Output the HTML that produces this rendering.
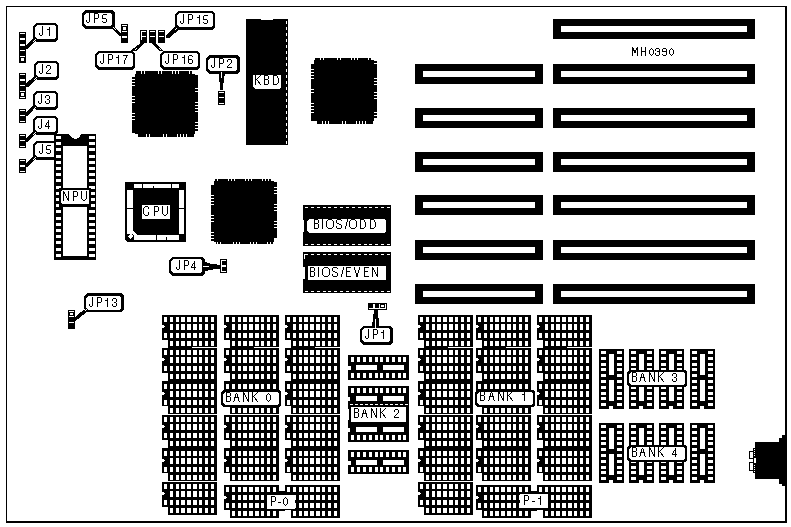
<!DOCTYPE html>
<html><head><meta charset="utf-8"><style>
html,body{margin:0;padding:0;background:#fff;}
svg{display:block;}
text{font-family:"Liberation Sans", sans-serif;}
</style></head><body>
<svg width="791" height="527" viewBox="0 0 791 527" shape-rendering="crispEdges">
<rect width="791" height="527" fill="#fff"/>
<rect x="6" y="6" width="781" height="517" fill="#000"/>
<rect x="7" y="7" width="778" height="514" fill="#fff"/>
<rect x="553" y="19" width="202" height="20" fill="#000"/>
<rect x="561" y="26" width="186" height="6" fill="#fff"/>
<rect x="553" y="64" width="202" height="20" fill="#000"/>
<rect x="561" y="71" width="186" height="6" fill="#fff"/>
<rect x="415" y="64" width="128" height="20" fill="#000"/>
<rect x="423" y="71" width="112" height="6" fill="#fff"/>
<rect x="553" y="108" width="202" height="20" fill="#000"/>
<rect x="561" y="115" width="186" height="6" fill="#fff"/>
<rect x="415" y="108" width="128" height="20" fill="#000"/>
<rect x="423" y="115" width="112" height="6" fill="#fff"/>
<rect x="553" y="152" width="202" height="20" fill="#000"/>
<rect x="561" y="159" width="186" height="6" fill="#fff"/>
<rect x="415" y="152" width="128" height="20" fill="#000"/>
<rect x="423" y="159" width="112" height="6" fill="#fff"/>
<rect x="553" y="195" width="202" height="20" fill="#000"/>
<rect x="561" y="202" width="186" height="6" fill="#fff"/>
<rect x="415" y="195" width="128" height="20" fill="#000"/>
<rect x="423" y="202" width="112" height="6" fill="#fff"/>
<rect x="553" y="240" width="202" height="20" fill="#000"/>
<rect x="561" y="247" width="186" height="6" fill="#fff"/>
<rect x="415" y="240" width="128" height="20" fill="#000"/>
<rect x="423" y="247" width="112" height="6" fill="#fff"/>
<rect x="553" y="284" width="202" height="20" fill="#000"/>
<rect x="561" y="291" width="186" height="6" fill="#fff"/>
<rect x="415" y="284" width="128" height="20" fill="#000"/>
<rect x="423" y="291" width="112" height="6" fill="#fff"/>
<polygon points="136,71 192,71 192,74 195,74 195,75 198,75 198,131 195,131 195,134 194,134 194,137 138,137 138,134 135,134 135,133 132,133 132,77 135,77 135,74 136,74" fill="#000"/>
<rect x="141" y="71" width="1" height="3" fill="#fff"/>
<rect x="144" y="71" width="1" height="3" fill="#fff"/>
<rect x="158" y="71" width="1" height="3" fill="#fff"/>
<rect x="161" y="71" width="1" height="3" fill="#fff"/>
<rect x="172" y="71" width="1" height="3" fill="#fff"/>
<rect x="175" y="71" width="1" height="3" fill="#fff"/>
<rect x="178" y="71" width="1" height="3" fill="#fff"/>
<rect x="189" y="71" width="1" height="3" fill="#fff"/>
<rect x="146" y="134" width="1" height="3" fill="#fff"/>
<rect x="149" y="134" width="1" height="3" fill="#fff"/>
<rect x="163" y="134" width="1" height="3" fill="#fff"/>
<rect x="166" y="134" width="1" height="3" fill="#fff"/>
<rect x="177" y="134" width="1" height="3" fill="#fff"/>
<rect x="180" y="134" width="1" height="3" fill="#fff"/>
<rect x="183" y="134" width="1" height="3" fill="#fff"/>
<rect x="186" y="134" width="1" height="3" fill="#fff"/>
<rect x="132" y="79" width="3" height="1" fill="#fff"/>
<rect x="132" y="82" width="3" height="1" fill="#fff"/>
<rect x="132" y="85" width="3" height="1" fill="#fff"/>
<rect x="132" y="96" width="3" height="1" fill="#fff"/>
<rect x="132" y="99" width="3" height="1" fill="#fff"/>
<rect x="132" y="102" width="3" height="1" fill="#fff"/>
<rect x="132" y="113" width="3" height="1" fill="#fff"/>
<rect x="132" y="116" width="3" height="1" fill="#fff"/>
<rect x="132" y="119" width="3" height="1" fill="#fff"/>
<rect x="195" y="88" width="3" height="1" fill="#fff"/>
<rect x="195" y="91" width="3" height="1" fill="#fff"/>
<rect x="195" y="102" width="3" height="1" fill="#fff"/>
<rect x="195" y="105" width="3" height="1" fill="#fff"/>
<rect x="195" y="108" width="3" height="1" fill="#fff"/>
<rect x="195" y="111" width="3" height="1" fill="#fff"/>
<rect x="195" y="122" width="3" height="1" fill="#fff"/>
<rect x="195" y="125" width="3" height="1" fill="#fff"/>
<rect x="195" y="128" width="3" height="1" fill="#fff"/>
<polygon points="315,58 371,58 371,60 374,60 374,61 377,61 377,118 374,118 374,121 373,121 373,124 317,124 317,121 311,121 311,64 314,64 314,60 315,60" fill="#000"/>
<rect x="320" y="58" width="1" height="2" fill="#fff"/>
<rect x="323" y="58" width="1" height="2" fill="#fff"/>
<rect x="337" y="58" width="1" height="2" fill="#fff"/>
<rect x="340" y="58" width="1" height="2" fill="#fff"/>
<rect x="351" y="58" width="1" height="2" fill="#fff"/>
<rect x="354" y="58" width="1" height="2" fill="#fff"/>
<rect x="357" y="58" width="1" height="2" fill="#fff"/>
<rect x="368" y="58" width="1" height="2" fill="#fff"/>
<rect x="322" y="121" width="1" height="3" fill="#fff"/>
<rect x="325" y="121" width="1" height="3" fill="#fff"/>
<rect x="328" y="121" width="1" height="3" fill="#fff"/>
<rect x="342" y="121" width="1" height="3" fill="#fff"/>
<rect x="345" y="121" width="1" height="3" fill="#fff"/>
<rect x="356" y="121" width="1" height="3" fill="#fff"/>
<rect x="359" y="121" width="1" height="3" fill="#fff"/>
<rect x="362" y="121" width="1" height="3" fill="#fff"/>
<rect x="365" y="121" width="1" height="3" fill="#fff"/>
<rect x="311" y="69" width="3" height="1" fill="#fff"/>
<rect x="311" y="72" width="3" height="1" fill="#fff"/>
<rect x="311" y="75" width="3" height="1" fill="#fff"/>
<rect x="311" y="78" width="3" height="1" fill="#fff"/>
<rect x="311" y="89" width="3" height="1" fill="#fff"/>
<rect x="311" y="92" width="3" height="1" fill="#fff"/>
<rect x="311" y="103" width="3" height="1" fill="#fff"/>
<rect x="311" y="106" width="3" height="1" fill="#fff"/>
<rect x="311" y="109" width="3" height="1" fill="#fff"/>
<rect x="311" y="112" width="3" height="1" fill="#fff"/>
<rect x="374" y="63" width="3" height="1" fill="#fff"/>
<rect x="374" y="78" width="3" height="1" fill="#fff"/>
<rect x="374" y="81" width="3" height="1" fill="#fff"/>
<rect x="374" y="84" width="3" height="1" fill="#fff"/>
<rect x="374" y="92" width="3" height="1" fill="#fff"/>
<rect x="374" y="95" width="3" height="1" fill="#fff"/>
<rect x="374" y="98" width="3" height="1" fill="#fff"/>
<rect x="374" y="112" width="3" height="1" fill="#fff"/>
<rect x="374" y="115" width="3" height="1" fill="#fff"/>
<polygon points="215,179 271,179 271,181 274,181 274,182 277,182 277,210 274,210 274,211 277,211 277,238 274,238 274,242 273,242 273,244 216,244 216,242 214,242 214,241 211,241 211,185 214,185 214,181 215,181" fill="#000"/>
<rect x="217" y="179" width="1" height="2" fill="#fff"/>
<rect x="228" y="179" width="1" height="2" fill="#fff"/>
<rect x="231" y="179" width="1" height="2" fill="#fff"/>
<rect x="234" y="179" width="1" height="2" fill="#fff"/>
<rect x="245" y="179" width="1" height="2" fill="#fff"/>
<rect x="248" y="179" width="1" height="2" fill="#fff"/>
<rect x="251" y="179" width="1" height="2" fill="#fff"/>
<rect x="262" y="179" width="1" height="2" fill="#fff"/>
<rect x="265" y="179" width="1" height="2" fill="#fff"/>
<rect x="268" y="179" width="1" height="2" fill="#fff"/>
<rect x="217" y="242" width="1" height="2" fill="#fff"/>
<rect x="220" y="242" width="1" height="2" fill="#fff"/>
<rect x="233" y="242" width="1" height="2" fill="#fff"/>
<rect x="236" y="242" width="1" height="2" fill="#fff"/>
<rect x="239" y="242" width="1" height="2" fill="#fff"/>
<rect x="250" y="242" width="1" height="2" fill="#fff"/>
<rect x="253" y="242" width="1" height="2" fill="#fff"/>
<rect x="256" y="242" width="1" height="2" fill="#fff"/>
<rect x="267" y="242" width="1" height="2" fill="#fff"/>
<rect x="270" y="242" width="1" height="2" fill="#fff"/>
<rect x="211" y="195" width="3" height="1" fill="#fff"/>
<rect x="211" y="198" width="3" height="1" fill="#fff"/>
<rect x="211" y="201" width="3" height="1" fill="#fff"/>
<rect x="211" y="204" width="3" height="1" fill="#fff"/>
<rect x="211" y="215" width="3" height="1" fill="#fff"/>
<rect x="211" y="218" width="3" height="1" fill="#fff"/>
<rect x="211" y="221" width="3" height="1" fill="#fff"/>
<rect x="211" y="232" width="3" height="1" fill="#fff"/>
<rect x="211" y="235" width="3" height="1" fill="#fff"/>
<rect x="211" y="238" width="3" height="1" fill="#fff"/>
<rect x="274" y="187" width="3" height="1" fill="#fff"/>
<rect x="274" y="190" width="3" height="1" fill="#fff"/>
<rect x="274" y="193" width="3" height="1" fill="#fff"/>
<rect x="274" y="204" width="3" height="1" fill="#fff"/>
<rect x="274" y="207" width="3" height="1" fill="#fff"/>
<rect x="274" y="221" width="3" height="1" fill="#fff"/>
<rect x="274" y="224" width="3" height="1" fill="#fff"/>
<rect x="274" y="227" width="3" height="1" fill="#fff"/>
<rect x="246" y="19" width="42" height="126" fill="#000"/>
<rect x="261" y="19" width="12" height="1" fill="#fff"/>
<rect x="286" y="21" width="1" height="3" fill="#fff"/>
<rect x="286" y="27" width="1" height="3" fill="#fff"/>
<rect x="286" y="33" width="1" height="3" fill="#fff"/>
<rect x="286" y="39" width="1" height="3" fill="#fff"/>
<rect x="286" y="45" width="1" height="3" fill="#fff"/>
<rect x="286" y="51" width="1" height="3" fill="#fff"/>
<rect x="286" y="57" width="1" height="3" fill="#fff"/>
<rect x="286" y="63" width="1" height="3" fill="#fff"/>
<rect x="286" y="69" width="1" height="3" fill="#fff"/>
<rect x="286" y="75" width="1" height="3" fill="#fff"/>
<rect x="286" y="81" width="1" height="3" fill="#fff"/>
<rect x="286" y="87" width="1" height="3" fill="#fff"/>
<rect x="286" y="93" width="1" height="3" fill="#fff"/>
<rect x="286" y="99" width="1" height="3" fill="#fff"/>
<rect x="286" y="105" width="1" height="3" fill="#fff"/>
<rect x="286" y="111" width="1" height="3" fill="#fff"/>
<rect x="286" y="117" width="1" height="3" fill="#fff"/>
<rect x="286" y="123" width="1" height="3" fill="#fff"/>
<rect x="286" y="129" width="1" height="3" fill="#fff"/>
<rect x="286" y="135" width="1" height="3" fill="#fff"/>
<rect x="286" y="141" width="1" height="3" fill="#fff"/>
<polygon points="253,75 281,75 281,87 279,89 255,89 253,87" fill="#fff"/>
<rect x="125" y="182" width="61" height="60" fill="#000"/>
<rect x="134" y="184" width="45" height="4" fill="#fff"/>
<rect x="127" y="190" width="6" height="44" fill="#fff"/>
<rect x="179" y="190" width="5" height="44" fill="#fff"/>
<rect x="134" y="235" width="45" height="5" fill="#fff"/>
<rect x="142" y="184" width="1" height="4" fill="#000"/>
<rect x="153" y="186" width="1" height="2" fill="#000"/>
<rect x="171" y="184" width="1" height="4" fill="#000"/>
<rect x="156" y="235" width="1" height="5" fill="#000"/>
<rect x="166" y="237" width="1" height="3" fill="#000"/>
<rect x="127" y="208" width="6" height="1" fill="#000"/>
<rect x="179" y="208" width="5" height="1" fill="#000"/>
<polygon points="133,231 137,235 133,235" fill="#fff"/>
<polygon points="130.5,233.5 133,236 130.5,239 128,236" fill="#fff"/>
<polygon points="124,238 128,242.5 124,242.5" fill="#fff"/>
<rect x="142" y="205" width="28" height="14" fill="#fff"/>
<rect x="303" y="205" width="88" height="41" fill="#000"/>
<rect x="305" y="207" width="3" height="1" fill="#fff"/>
<rect x="305" y="244" width="3" height="1" fill="#fff"/>
<rect x="311" y="207" width="3" height="1" fill="#fff"/>
<rect x="311" y="244" width="3" height="1" fill="#fff"/>
<rect x="317" y="207" width="3" height="1" fill="#fff"/>
<rect x="317" y="244" width="3" height="1" fill="#fff"/>
<rect x="323" y="207" width="3" height="1" fill="#fff"/>
<rect x="323" y="244" width="3" height="1" fill="#fff"/>
<rect x="328" y="207" width="3" height="1" fill="#fff"/>
<rect x="328" y="244" width="3" height="1" fill="#fff"/>
<rect x="334" y="207" width="3" height="1" fill="#fff"/>
<rect x="334" y="244" width="3" height="1" fill="#fff"/>
<rect x="340" y="207" width="3" height="1" fill="#fff"/>
<rect x="340" y="244" width="3" height="1" fill="#fff"/>
<rect x="346" y="207" width="3" height="1" fill="#fff"/>
<rect x="346" y="244" width="3" height="1" fill="#fff"/>
<rect x="352" y="207" width="3" height="1" fill="#fff"/>
<rect x="352" y="244" width="3" height="1" fill="#fff"/>
<rect x="358" y="207" width="3" height="1" fill="#fff"/>
<rect x="358" y="244" width="3" height="1" fill="#fff"/>
<rect x="364" y="207" width="3" height="1" fill="#fff"/>
<rect x="364" y="244" width="3" height="1" fill="#fff"/>
<rect x="369" y="207" width="3" height="1" fill="#fff"/>
<rect x="369" y="244" width="3" height="1" fill="#fff"/>
<rect x="375" y="207" width="3" height="1" fill="#fff"/>
<rect x="375" y="244" width="3" height="1" fill="#fff"/>
<rect x="381" y="207" width="3" height="1" fill="#fff"/>
<rect x="381" y="244" width="3" height="1" fill="#fff"/>
<rect x="387" y="207" width="3" height="1" fill="#fff"/>
<rect x="387" y="244" width="3" height="1" fill="#fff"/>
<rect x="303" y="220" width="1" height="12" fill="#fff"/>
<polygon points="309,219 384,219 386,221 386,231 384,233 309,233 307,231 307,221" fill="#fff"/>
<rect x="303" y="252" width="88" height="41" fill="#000"/>
<rect x="305" y="254" width="3" height="1" fill="#fff"/>
<rect x="305" y="291" width="3" height="1" fill="#fff"/>
<rect x="311" y="254" width="3" height="1" fill="#fff"/>
<rect x="311" y="291" width="3" height="1" fill="#fff"/>
<rect x="317" y="254" width="3" height="1" fill="#fff"/>
<rect x="317" y="291" width="3" height="1" fill="#fff"/>
<rect x="323" y="254" width="3" height="1" fill="#fff"/>
<rect x="323" y="291" width="3" height="1" fill="#fff"/>
<rect x="328" y="254" width="3" height="1" fill="#fff"/>
<rect x="328" y="291" width="3" height="1" fill="#fff"/>
<rect x="334" y="254" width="3" height="1" fill="#fff"/>
<rect x="334" y="291" width="3" height="1" fill="#fff"/>
<rect x="340" y="254" width="3" height="1" fill="#fff"/>
<rect x="340" y="291" width="3" height="1" fill="#fff"/>
<rect x="346" y="254" width="3" height="1" fill="#fff"/>
<rect x="346" y="291" width="3" height="1" fill="#fff"/>
<rect x="352" y="254" width="3" height="1" fill="#fff"/>
<rect x="352" y="291" width="3" height="1" fill="#fff"/>
<rect x="358" y="254" width="3" height="1" fill="#fff"/>
<rect x="358" y="291" width="3" height="1" fill="#fff"/>
<rect x="364" y="254" width="3" height="1" fill="#fff"/>
<rect x="364" y="291" width="3" height="1" fill="#fff"/>
<rect x="369" y="254" width="3" height="1" fill="#fff"/>
<rect x="369" y="291" width="3" height="1" fill="#fff"/>
<rect x="375" y="254" width="3" height="1" fill="#fff"/>
<rect x="375" y="291" width="3" height="1" fill="#fff"/>
<rect x="381" y="254" width="3" height="1" fill="#fff"/>
<rect x="381" y="291" width="3" height="1" fill="#fff"/>
<rect x="387" y="254" width="3" height="1" fill="#fff"/>
<rect x="387" y="291" width="3" height="1" fill="#fff"/>
<rect x="303" y="267" width="2" height="12" fill="#fff"/>
<rect x="304" y="254" width="1" height="5" fill="#fff"/>
<rect x="308" y="266" width="78" height="14" fill="#fff"/>
<rect x="162" y="315" width="55" height="25" fill="#000"/>
<rect x="168" y="340" width="49" height="8" fill="#000"/>
<rect x="164" y="317" width="3" height="5" fill="#fff"/>
<rect x="170" y="317" width="3" height="5" fill="#fff"/>
<rect x="176" y="317" width="3" height="5" fill="#fff"/>
<rect x="181" y="317" width="4" height="5" fill="#fff"/>
<rect x="187" y="317" width="4" height="5" fill="#fff"/>
<rect x="193" y="317" width="4" height="5" fill="#fff"/>
<rect x="199" y="317" width="3" height="5" fill="#fff"/>
<rect x="205" y="317" width="3" height="5" fill="#fff"/>
<rect x="211" y="317" width="3" height="5" fill="#fff"/>
<rect x="170" y="324" width="3" height="6" fill="#fff"/>
<rect x="176" y="324" width="3" height="6" fill="#fff"/>
<rect x="181" y="324" width="4" height="6" fill="#fff"/>
<rect x="187" y="324" width="4" height="6" fill="#fff"/>
<rect x="193" y="324" width="4" height="6" fill="#fff"/>
<rect x="199" y="324" width="3" height="6" fill="#fff"/>
<rect x="205" y="324" width="3" height="6" fill="#fff"/>
<rect x="211" y="324" width="3" height="6" fill="#fff"/>
<rect x="164" y="333" width="3" height="5" fill="#fff"/>
<rect x="170" y="333" width="3" height="5" fill="#fff"/>
<rect x="176" y="333" width="3" height="5" fill="#fff"/>
<rect x="181" y="333" width="4" height="5" fill="#fff"/>
<rect x="187" y="333" width="4" height="5" fill="#fff"/>
<rect x="193" y="333" width="4" height="5" fill="#fff"/>
<rect x="199" y="333" width="3" height="5" fill="#fff"/>
<rect x="205" y="333" width="3" height="5" fill="#fff"/>
<rect x="211" y="333" width="3" height="5" fill="#fff"/>
<rect x="170" y="341" width="3" height="5" fill="#fff"/>
<rect x="176" y="341" width="3" height="5" fill="#fff"/>
<rect x="181" y="341" width="4" height="5" fill="#fff"/>
<rect x="187" y="341" width="4" height="5" fill="#fff"/>
<rect x="193" y="341" width="4" height="5" fill="#fff"/>
<rect x="199" y="341" width="3" height="5" fill="#fff"/>
<rect x="205" y="341" width="3" height="5" fill="#fff"/>
<rect x="211" y="341" width="3" height="5" fill="#fff"/>
<polygon points="162,325 164,325 165,326.5 164,328 162,328" fill="#fff"/>
<rect x="162" y="348" width="55" height="25" fill="#000"/>
<rect x="168" y="373" width="49" height="8" fill="#000"/>
<rect x="164" y="350" width="3" height="5" fill="#fff"/>
<rect x="170" y="350" width="3" height="5" fill="#fff"/>
<rect x="176" y="350" width="3" height="5" fill="#fff"/>
<rect x="181" y="350" width="4" height="5" fill="#fff"/>
<rect x="187" y="350" width="4" height="5" fill="#fff"/>
<rect x="193" y="350" width="4" height="5" fill="#fff"/>
<rect x="199" y="350" width="3" height="5" fill="#fff"/>
<rect x="205" y="350" width="3" height="5" fill="#fff"/>
<rect x="211" y="350" width="3" height="5" fill="#fff"/>
<rect x="170" y="357" width="3" height="6" fill="#fff"/>
<rect x="176" y="357" width="3" height="6" fill="#fff"/>
<rect x="181" y="357" width="4" height="6" fill="#fff"/>
<rect x="187" y="357" width="4" height="6" fill="#fff"/>
<rect x="193" y="357" width="4" height="6" fill="#fff"/>
<rect x="199" y="357" width="3" height="6" fill="#fff"/>
<rect x="205" y="357" width="3" height="6" fill="#fff"/>
<rect x="211" y="357" width="3" height="6" fill="#fff"/>
<rect x="164" y="366" width="3" height="5" fill="#fff"/>
<rect x="170" y="366" width="3" height="5" fill="#fff"/>
<rect x="176" y="366" width="3" height="5" fill="#fff"/>
<rect x="181" y="366" width="4" height="5" fill="#fff"/>
<rect x="187" y="366" width="4" height="5" fill="#fff"/>
<rect x="193" y="366" width="4" height="5" fill="#fff"/>
<rect x="199" y="366" width="3" height="5" fill="#fff"/>
<rect x="205" y="366" width="3" height="5" fill="#fff"/>
<rect x="211" y="366" width="3" height="5" fill="#fff"/>
<rect x="170" y="374" width="3" height="5" fill="#fff"/>
<rect x="176" y="374" width="3" height="5" fill="#fff"/>
<rect x="181" y="374" width="4" height="5" fill="#fff"/>
<rect x="187" y="374" width="4" height="5" fill="#fff"/>
<rect x="193" y="374" width="4" height="5" fill="#fff"/>
<rect x="199" y="374" width="3" height="5" fill="#fff"/>
<rect x="205" y="374" width="3" height="5" fill="#fff"/>
<rect x="211" y="374" width="3" height="5" fill="#fff"/>
<polygon points="162,358 164,358 165,359.5 164,361 162,361" fill="#fff"/>
<rect x="162" y="381" width="55" height="25" fill="#000"/>
<rect x="168" y="406" width="49" height="9" fill="#000"/>
<rect x="164" y="384" width="3" height="5" fill="#fff"/>
<rect x="170" y="384" width="3" height="5" fill="#fff"/>
<rect x="176" y="384" width="3" height="5" fill="#fff"/>
<rect x="181" y="384" width="4" height="5" fill="#fff"/>
<rect x="187" y="384" width="4" height="5" fill="#fff"/>
<rect x="193" y="384" width="4" height="5" fill="#fff"/>
<rect x="199" y="384" width="3" height="5" fill="#fff"/>
<rect x="205" y="384" width="3" height="5" fill="#fff"/>
<rect x="211" y="384" width="3" height="5" fill="#fff"/>
<rect x="170" y="391" width="3" height="6" fill="#fff"/>
<rect x="176" y="391" width="3" height="6" fill="#fff"/>
<rect x="181" y="391" width="4" height="6" fill="#fff"/>
<rect x="187" y="391" width="4" height="6" fill="#fff"/>
<rect x="193" y="391" width="4" height="6" fill="#fff"/>
<rect x="199" y="391" width="3" height="6" fill="#fff"/>
<rect x="205" y="391" width="3" height="6" fill="#fff"/>
<rect x="211" y="391" width="3" height="6" fill="#fff"/>
<rect x="164" y="400" width="3" height="5" fill="#fff"/>
<rect x="170" y="400" width="3" height="5" fill="#fff"/>
<rect x="176" y="400" width="3" height="5" fill="#fff"/>
<rect x="181" y="400" width="4" height="5" fill="#fff"/>
<rect x="187" y="400" width="4" height="5" fill="#fff"/>
<rect x="193" y="400" width="4" height="5" fill="#fff"/>
<rect x="199" y="400" width="3" height="5" fill="#fff"/>
<rect x="205" y="400" width="3" height="5" fill="#fff"/>
<rect x="211" y="400" width="3" height="5" fill="#fff"/>
<rect x="170" y="408" width="3" height="5" fill="#fff"/>
<rect x="176" y="408" width="3" height="5" fill="#fff"/>
<rect x="181" y="408" width="4" height="5" fill="#fff"/>
<rect x="187" y="408" width="4" height="5" fill="#fff"/>
<rect x="193" y="408" width="4" height="5" fill="#fff"/>
<rect x="199" y="408" width="3" height="5" fill="#fff"/>
<rect x="205" y="408" width="3" height="5" fill="#fff"/>
<rect x="211" y="408" width="3" height="5" fill="#fff"/>
<polygon points="162,392 164,392 165,393.5 164,395 162,395" fill="#fff"/>
<rect x="162" y="415" width="55" height="25" fill="#000"/>
<rect x="168" y="440" width="49" height="8" fill="#000"/>
<rect x="164" y="417" width="3" height="5" fill="#fff"/>
<rect x="170" y="417" width="3" height="5" fill="#fff"/>
<rect x="176" y="417" width="3" height="5" fill="#fff"/>
<rect x="181" y="417" width="4" height="5" fill="#fff"/>
<rect x="187" y="417" width="4" height="5" fill="#fff"/>
<rect x="193" y="417" width="4" height="5" fill="#fff"/>
<rect x="199" y="417" width="3" height="5" fill="#fff"/>
<rect x="205" y="417" width="3" height="5" fill="#fff"/>
<rect x="211" y="417" width="3" height="5" fill="#fff"/>
<rect x="170" y="424" width="3" height="6" fill="#fff"/>
<rect x="176" y="424" width="3" height="6" fill="#fff"/>
<rect x="181" y="424" width="4" height="6" fill="#fff"/>
<rect x="187" y="424" width="4" height="6" fill="#fff"/>
<rect x="193" y="424" width="4" height="6" fill="#fff"/>
<rect x="199" y="424" width="3" height="6" fill="#fff"/>
<rect x="205" y="424" width="3" height="6" fill="#fff"/>
<rect x="211" y="424" width="3" height="6" fill="#fff"/>
<rect x="164" y="433" width="3" height="5" fill="#fff"/>
<rect x="170" y="433" width="3" height="5" fill="#fff"/>
<rect x="176" y="433" width="3" height="5" fill="#fff"/>
<rect x="181" y="433" width="4" height="5" fill="#fff"/>
<rect x="187" y="433" width="4" height="5" fill="#fff"/>
<rect x="193" y="433" width="4" height="5" fill="#fff"/>
<rect x="199" y="433" width="3" height="5" fill="#fff"/>
<rect x="205" y="433" width="3" height="5" fill="#fff"/>
<rect x="211" y="433" width="3" height="5" fill="#fff"/>
<rect x="170" y="441" width="3" height="5" fill="#fff"/>
<rect x="176" y="441" width="3" height="5" fill="#fff"/>
<rect x="181" y="441" width="4" height="5" fill="#fff"/>
<rect x="187" y="441" width="4" height="5" fill="#fff"/>
<rect x="193" y="441" width="4" height="5" fill="#fff"/>
<rect x="199" y="441" width="3" height="5" fill="#fff"/>
<rect x="205" y="441" width="3" height="5" fill="#fff"/>
<rect x="211" y="441" width="3" height="5" fill="#fff"/>
<polygon points="162,425 164,425 165,426.5 164,428 162,428" fill="#fff"/>
<rect x="162" y="448" width="55" height="25" fill="#000"/>
<rect x="168" y="473" width="49" height="9" fill="#000"/>
<rect x="164" y="451" width="3" height="5" fill="#fff"/>
<rect x="170" y="451" width="3" height="5" fill="#fff"/>
<rect x="176" y="451" width="3" height="5" fill="#fff"/>
<rect x="181" y="451" width="4" height="5" fill="#fff"/>
<rect x="187" y="451" width="4" height="5" fill="#fff"/>
<rect x="193" y="451" width="4" height="5" fill="#fff"/>
<rect x="199" y="451" width="3" height="5" fill="#fff"/>
<rect x="205" y="451" width="3" height="5" fill="#fff"/>
<rect x="211" y="451" width="3" height="5" fill="#fff"/>
<rect x="170" y="458" width="3" height="6" fill="#fff"/>
<rect x="176" y="458" width="3" height="6" fill="#fff"/>
<rect x="181" y="458" width="4" height="6" fill="#fff"/>
<rect x="187" y="458" width="4" height="6" fill="#fff"/>
<rect x="193" y="458" width="4" height="6" fill="#fff"/>
<rect x="199" y="458" width="3" height="6" fill="#fff"/>
<rect x="205" y="458" width="3" height="6" fill="#fff"/>
<rect x="211" y="458" width="3" height="6" fill="#fff"/>
<rect x="164" y="467" width="3" height="5" fill="#fff"/>
<rect x="170" y="467" width="3" height="5" fill="#fff"/>
<rect x="176" y="467" width="3" height="5" fill="#fff"/>
<rect x="181" y="467" width="4" height="5" fill="#fff"/>
<rect x="187" y="467" width="4" height="5" fill="#fff"/>
<rect x="193" y="467" width="4" height="5" fill="#fff"/>
<rect x="199" y="467" width="3" height="5" fill="#fff"/>
<rect x="205" y="467" width="3" height="5" fill="#fff"/>
<rect x="211" y="467" width="3" height="5" fill="#fff"/>
<rect x="170" y="475" width="3" height="5" fill="#fff"/>
<rect x="176" y="475" width="3" height="5" fill="#fff"/>
<rect x="181" y="475" width="4" height="5" fill="#fff"/>
<rect x="187" y="475" width="4" height="5" fill="#fff"/>
<rect x="193" y="475" width="4" height="5" fill="#fff"/>
<rect x="199" y="475" width="3" height="5" fill="#fff"/>
<rect x="205" y="475" width="3" height="5" fill="#fff"/>
<rect x="211" y="475" width="3" height="5" fill="#fff"/>
<polygon points="162,459 164,459 165,460.5 164,462 162,462" fill="#fff"/>
<rect x="162" y="482" width="55" height="25" fill="#000"/>
<rect x="168" y="507" width="49" height="8" fill="#000"/>
<rect x="164" y="484" width="3" height="5" fill="#fff"/>
<rect x="170" y="484" width="3" height="5" fill="#fff"/>
<rect x="176" y="484" width="3" height="5" fill="#fff"/>
<rect x="181" y="484" width="4" height="5" fill="#fff"/>
<rect x="187" y="484" width="4" height="5" fill="#fff"/>
<rect x="193" y="484" width="4" height="5" fill="#fff"/>
<rect x="199" y="484" width="3" height="5" fill="#fff"/>
<rect x="205" y="484" width="3" height="5" fill="#fff"/>
<rect x="211" y="484" width="3" height="5" fill="#fff"/>
<rect x="170" y="491" width="3" height="6" fill="#fff"/>
<rect x="176" y="491" width="3" height="6" fill="#fff"/>
<rect x="181" y="491" width="4" height="6" fill="#fff"/>
<rect x="187" y="491" width="4" height="6" fill="#fff"/>
<rect x="193" y="491" width="4" height="6" fill="#fff"/>
<rect x="199" y="491" width="3" height="6" fill="#fff"/>
<rect x="205" y="491" width="3" height="6" fill="#fff"/>
<rect x="211" y="491" width="3" height="6" fill="#fff"/>
<rect x="164" y="500" width="3" height="5" fill="#fff"/>
<rect x="170" y="500" width="3" height="5" fill="#fff"/>
<rect x="176" y="500" width="3" height="5" fill="#fff"/>
<rect x="181" y="500" width="4" height="5" fill="#fff"/>
<rect x="187" y="500" width="4" height="5" fill="#fff"/>
<rect x="193" y="500" width="4" height="5" fill="#fff"/>
<rect x="199" y="500" width="3" height="5" fill="#fff"/>
<rect x="205" y="500" width="3" height="5" fill="#fff"/>
<rect x="211" y="500" width="3" height="5" fill="#fff"/>
<rect x="170" y="508" width="3" height="5" fill="#fff"/>
<rect x="176" y="508" width="3" height="5" fill="#fff"/>
<rect x="181" y="508" width="4" height="5" fill="#fff"/>
<rect x="187" y="508" width="4" height="5" fill="#fff"/>
<rect x="193" y="508" width="4" height="5" fill="#fff"/>
<rect x="199" y="508" width="3" height="5" fill="#fff"/>
<rect x="205" y="508" width="3" height="5" fill="#fff"/>
<rect x="211" y="508" width="3" height="5" fill="#fff"/>
<polygon points="162,492 164,492 165,493.5 164,495 162,495" fill="#fff"/>
<rect x="192" y="347" width="25" height="1" fill="#fff"/>
<rect x="162" y="414" width="55" height="1" fill="#fff"/>
<rect x="168" y="481" width="49" height="1" fill="#fff"/>
<rect x="418" y="315" width="55" height="25" fill="#000"/>
<rect x="424" y="340" width="49" height="8" fill="#000"/>
<rect x="420" y="317" width="3" height="5" fill="#fff"/>
<rect x="426" y="317" width="3" height="5" fill="#fff"/>
<rect x="432" y="317" width="3" height="5" fill="#fff"/>
<rect x="437" y="317" width="4" height="5" fill="#fff"/>
<rect x="443" y="317" width="4" height="5" fill="#fff"/>
<rect x="449" y="317" width="4" height="5" fill="#fff"/>
<rect x="455" y="317" width="3" height="5" fill="#fff"/>
<rect x="461" y="317" width="3" height="5" fill="#fff"/>
<rect x="467" y="317" width="3" height="5" fill="#fff"/>
<rect x="426" y="324" width="3" height="6" fill="#fff"/>
<rect x="432" y="324" width="3" height="6" fill="#fff"/>
<rect x="437" y="324" width="4" height="6" fill="#fff"/>
<rect x="443" y="324" width="4" height="6" fill="#fff"/>
<rect x="449" y="324" width="4" height="6" fill="#fff"/>
<rect x="455" y="324" width="3" height="6" fill="#fff"/>
<rect x="461" y="324" width="3" height="6" fill="#fff"/>
<rect x="467" y="324" width="3" height="6" fill="#fff"/>
<rect x="420" y="333" width="3" height="5" fill="#fff"/>
<rect x="426" y="333" width="3" height="5" fill="#fff"/>
<rect x="432" y="333" width="3" height="5" fill="#fff"/>
<rect x="437" y="333" width="4" height="5" fill="#fff"/>
<rect x="443" y="333" width="4" height="5" fill="#fff"/>
<rect x="449" y="333" width="4" height="5" fill="#fff"/>
<rect x="455" y="333" width="3" height="5" fill="#fff"/>
<rect x="461" y="333" width="3" height="5" fill="#fff"/>
<rect x="467" y="333" width="3" height="5" fill="#fff"/>
<rect x="426" y="341" width="3" height="5" fill="#fff"/>
<rect x="432" y="341" width="3" height="5" fill="#fff"/>
<rect x="437" y="341" width="4" height="5" fill="#fff"/>
<rect x="443" y="341" width="4" height="5" fill="#fff"/>
<rect x="449" y="341" width="4" height="5" fill="#fff"/>
<rect x="455" y="341" width="3" height="5" fill="#fff"/>
<rect x="461" y="341" width="3" height="5" fill="#fff"/>
<rect x="467" y="341" width="3" height="5" fill="#fff"/>
<polygon points="418,325 420,325 421,326.5 420,328 418,328" fill="#fff"/>
<rect x="418" y="348" width="55" height="25" fill="#000"/>
<rect x="424" y="373" width="49" height="8" fill="#000"/>
<rect x="420" y="350" width="3" height="5" fill="#fff"/>
<rect x="426" y="350" width="3" height="5" fill="#fff"/>
<rect x="432" y="350" width="3" height="5" fill="#fff"/>
<rect x="437" y="350" width="4" height="5" fill="#fff"/>
<rect x="443" y="350" width="4" height="5" fill="#fff"/>
<rect x="449" y="350" width="4" height="5" fill="#fff"/>
<rect x="455" y="350" width="3" height="5" fill="#fff"/>
<rect x="461" y="350" width="3" height="5" fill="#fff"/>
<rect x="467" y="350" width="3" height="5" fill="#fff"/>
<rect x="426" y="357" width="3" height="6" fill="#fff"/>
<rect x="432" y="357" width="3" height="6" fill="#fff"/>
<rect x="437" y="357" width="4" height="6" fill="#fff"/>
<rect x="443" y="357" width="4" height="6" fill="#fff"/>
<rect x="449" y="357" width="4" height="6" fill="#fff"/>
<rect x="455" y="357" width="3" height="6" fill="#fff"/>
<rect x="461" y="357" width="3" height="6" fill="#fff"/>
<rect x="467" y="357" width="3" height="6" fill="#fff"/>
<rect x="420" y="366" width="3" height="5" fill="#fff"/>
<rect x="426" y="366" width="3" height="5" fill="#fff"/>
<rect x="432" y="366" width="3" height="5" fill="#fff"/>
<rect x="437" y="366" width="4" height="5" fill="#fff"/>
<rect x="443" y="366" width="4" height="5" fill="#fff"/>
<rect x="449" y="366" width="4" height="5" fill="#fff"/>
<rect x="455" y="366" width="3" height="5" fill="#fff"/>
<rect x="461" y="366" width="3" height="5" fill="#fff"/>
<rect x="467" y="366" width="3" height="5" fill="#fff"/>
<rect x="426" y="374" width="3" height="5" fill="#fff"/>
<rect x="432" y="374" width="3" height="5" fill="#fff"/>
<rect x="437" y="374" width="4" height="5" fill="#fff"/>
<rect x="443" y="374" width="4" height="5" fill="#fff"/>
<rect x="449" y="374" width="4" height="5" fill="#fff"/>
<rect x="455" y="374" width="3" height="5" fill="#fff"/>
<rect x="461" y="374" width="3" height="5" fill="#fff"/>
<rect x="467" y="374" width="3" height="5" fill="#fff"/>
<polygon points="418,358 420,358 421,359.5 420,361 418,361" fill="#fff"/>
<rect x="418" y="381" width="55" height="25" fill="#000"/>
<rect x="424" y="406" width="49" height="9" fill="#000"/>
<rect x="420" y="384" width="3" height="5" fill="#fff"/>
<rect x="426" y="384" width="3" height="5" fill="#fff"/>
<rect x="432" y="384" width="3" height="5" fill="#fff"/>
<rect x="437" y="384" width="4" height="5" fill="#fff"/>
<rect x="443" y="384" width="4" height="5" fill="#fff"/>
<rect x="449" y="384" width="4" height="5" fill="#fff"/>
<rect x="455" y="384" width="3" height="5" fill="#fff"/>
<rect x="461" y="384" width="3" height="5" fill="#fff"/>
<rect x="467" y="384" width="3" height="5" fill="#fff"/>
<rect x="426" y="391" width="3" height="6" fill="#fff"/>
<rect x="432" y="391" width="3" height="6" fill="#fff"/>
<rect x="437" y="391" width="4" height="6" fill="#fff"/>
<rect x="443" y="391" width="4" height="6" fill="#fff"/>
<rect x="449" y="391" width="4" height="6" fill="#fff"/>
<rect x="455" y="391" width="3" height="6" fill="#fff"/>
<rect x="461" y="391" width="3" height="6" fill="#fff"/>
<rect x="467" y="391" width="3" height="6" fill="#fff"/>
<rect x="420" y="400" width="3" height="5" fill="#fff"/>
<rect x="426" y="400" width="3" height="5" fill="#fff"/>
<rect x="432" y="400" width="3" height="5" fill="#fff"/>
<rect x="437" y="400" width="4" height="5" fill="#fff"/>
<rect x="443" y="400" width="4" height="5" fill="#fff"/>
<rect x="449" y="400" width="4" height="5" fill="#fff"/>
<rect x="455" y="400" width="3" height="5" fill="#fff"/>
<rect x="461" y="400" width="3" height="5" fill="#fff"/>
<rect x="467" y="400" width="3" height="5" fill="#fff"/>
<rect x="426" y="408" width="3" height="5" fill="#fff"/>
<rect x="432" y="408" width="3" height="5" fill="#fff"/>
<rect x="437" y="408" width="4" height="5" fill="#fff"/>
<rect x="443" y="408" width="4" height="5" fill="#fff"/>
<rect x="449" y="408" width="4" height="5" fill="#fff"/>
<rect x="455" y="408" width="3" height="5" fill="#fff"/>
<rect x="461" y="408" width="3" height="5" fill="#fff"/>
<rect x="467" y="408" width="3" height="5" fill="#fff"/>
<polygon points="418,392 420,392 421,393.5 420,395 418,395" fill="#fff"/>
<rect x="418" y="415" width="55" height="25" fill="#000"/>
<rect x="424" y="440" width="49" height="8" fill="#000"/>
<rect x="420" y="417" width="3" height="5" fill="#fff"/>
<rect x="426" y="417" width="3" height="5" fill="#fff"/>
<rect x="432" y="417" width="3" height="5" fill="#fff"/>
<rect x="437" y="417" width="4" height="5" fill="#fff"/>
<rect x="443" y="417" width="4" height="5" fill="#fff"/>
<rect x="449" y="417" width="4" height="5" fill="#fff"/>
<rect x="455" y="417" width="3" height="5" fill="#fff"/>
<rect x="461" y="417" width="3" height="5" fill="#fff"/>
<rect x="467" y="417" width="3" height="5" fill="#fff"/>
<rect x="426" y="424" width="3" height="6" fill="#fff"/>
<rect x="432" y="424" width="3" height="6" fill="#fff"/>
<rect x="437" y="424" width="4" height="6" fill="#fff"/>
<rect x="443" y="424" width="4" height="6" fill="#fff"/>
<rect x="449" y="424" width="4" height="6" fill="#fff"/>
<rect x="455" y="424" width="3" height="6" fill="#fff"/>
<rect x="461" y="424" width="3" height="6" fill="#fff"/>
<rect x="467" y="424" width="3" height="6" fill="#fff"/>
<rect x="420" y="433" width="3" height="5" fill="#fff"/>
<rect x="426" y="433" width="3" height="5" fill="#fff"/>
<rect x="432" y="433" width="3" height="5" fill="#fff"/>
<rect x="437" y="433" width="4" height="5" fill="#fff"/>
<rect x="443" y="433" width="4" height="5" fill="#fff"/>
<rect x="449" y="433" width="4" height="5" fill="#fff"/>
<rect x="455" y="433" width="3" height="5" fill="#fff"/>
<rect x="461" y="433" width="3" height="5" fill="#fff"/>
<rect x="467" y="433" width="3" height="5" fill="#fff"/>
<rect x="426" y="441" width="3" height="5" fill="#fff"/>
<rect x="432" y="441" width="3" height="5" fill="#fff"/>
<rect x="437" y="441" width="4" height="5" fill="#fff"/>
<rect x="443" y="441" width="4" height="5" fill="#fff"/>
<rect x="449" y="441" width="4" height="5" fill="#fff"/>
<rect x="455" y="441" width="3" height="5" fill="#fff"/>
<rect x="461" y="441" width="3" height="5" fill="#fff"/>
<rect x="467" y="441" width="3" height="5" fill="#fff"/>
<polygon points="418,425 420,425 421,426.5 420,428 418,428" fill="#fff"/>
<rect x="418" y="448" width="55" height="25" fill="#000"/>
<rect x="424" y="473" width="49" height="9" fill="#000"/>
<rect x="420" y="451" width="3" height="5" fill="#fff"/>
<rect x="426" y="451" width="3" height="5" fill="#fff"/>
<rect x="432" y="451" width="3" height="5" fill="#fff"/>
<rect x="437" y="451" width="4" height="5" fill="#fff"/>
<rect x="443" y="451" width="4" height="5" fill="#fff"/>
<rect x="449" y="451" width="4" height="5" fill="#fff"/>
<rect x="455" y="451" width="3" height="5" fill="#fff"/>
<rect x="461" y="451" width="3" height="5" fill="#fff"/>
<rect x="467" y="451" width="3" height="5" fill="#fff"/>
<rect x="426" y="458" width="3" height="6" fill="#fff"/>
<rect x="432" y="458" width="3" height="6" fill="#fff"/>
<rect x="437" y="458" width="4" height="6" fill="#fff"/>
<rect x="443" y="458" width="4" height="6" fill="#fff"/>
<rect x="449" y="458" width="4" height="6" fill="#fff"/>
<rect x="455" y="458" width="3" height="6" fill="#fff"/>
<rect x="461" y="458" width="3" height="6" fill="#fff"/>
<rect x="467" y="458" width="3" height="6" fill="#fff"/>
<rect x="420" y="467" width="3" height="5" fill="#fff"/>
<rect x="426" y="467" width="3" height="5" fill="#fff"/>
<rect x="432" y="467" width="3" height="5" fill="#fff"/>
<rect x="437" y="467" width="4" height="5" fill="#fff"/>
<rect x="443" y="467" width="4" height="5" fill="#fff"/>
<rect x="449" y="467" width="4" height="5" fill="#fff"/>
<rect x="455" y="467" width="3" height="5" fill="#fff"/>
<rect x="461" y="467" width="3" height="5" fill="#fff"/>
<rect x="467" y="467" width="3" height="5" fill="#fff"/>
<rect x="426" y="475" width="3" height="5" fill="#fff"/>
<rect x="432" y="475" width="3" height="5" fill="#fff"/>
<rect x="437" y="475" width="4" height="5" fill="#fff"/>
<rect x="443" y="475" width="4" height="5" fill="#fff"/>
<rect x="449" y="475" width="4" height="5" fill="#fff"/>
<rect x="455" y="475" width="3" height="5" fill="#fff"/>
<rect x="461" y="475" width="3" height="5" fill="#fff"/>
<rect x="467" y="475" width="3" height="5" fill="#fff"/>
<polygon points="418,459 420,459 421,460.5 420,462 418,462" fill="#fff"/>
<rect x="418" y="482" width="55" height="25" fill="#000"/>
<rect x="424" y="507" width="49" height="8" fill="#000"/>
<rect x="420" y="484" width="3" height="5" fill="#fff"/>
<rect x="426" y="484" width="3" height="5" fill="#fff"/>
<rect x="432" y="484" width="3" height="5" fill="#fff"/>
<rect x="437" y="484" width="4" height="5" fill="#fff"/>
<rect x="443" y="484" width="4" height="5" fill="#fff"/>
<rect x="449" y="484" width="4" height="5" fill="#fff"/>
<rect x="455" y="484" width="3" height="5" fill="#fff"/>
<rect x="461" y="484" width="3" height="5" fill="#fff"/>
<rect x="467" y="484" width="3" height="5" fill="#fff"/>
<rect x="426" y="491" width="3" height="6" fill="#fff"/>
<rect x="432" y="491" width="3" height="6" fill="#fff"/>
<rect x="437" y="491" width="4" height="6" fill="#fff"/>
<rect x="443" y="491" width="4" height="6" fill="#fff"/>
<rect x="449" y="491" width="4" height="6" fill="#fff"/>
<rect x="455" y="491" width="3" height="6" fill="#fff"/>
<rect x="461" y="491" width="3" height="6" fill="#fff"/>
<rect x="467" y="491" width="3" height="6" fill="#fff"/>
<rect x="420" y="500" width="3" height="5" fill="#fff"/>
<rect x="426" y="500" width="3" height="5" fill="#fff"/>
<rect x="432" y="500" width="3" height="5" fill="#fff"/>
<rect x="437" y="500" width="4" height="5" fill="#fff"/>
<rect x="443" y="500" width="4" height="5" fill="#fff"/>
<rect x="449" y="500" width="4" height="5" fill="#fff"/>
<rect x="455" y="500" width="3" height="5" fill="#fff"/>
<rect x="461" y="500" width="3" height="5" fill="#fff"/>
<rect x="467" y="500" width="3" height="5" fill="#fff"/>
<rect x="426" y="508" width="3" height="5" fill="#fff"/>
<rect x="432" y="508" width="3" height="5" fill="#fff"/>
<rect x="437" y="508" width="4" height="5" fill="#fff"/>
<rect x="443" y="508" width="4" height="5" fill="#fff"/>
<rect x="449" y="508" width="4" height="5" fill="#fff"/>
<rect x="455" y="508" width="3" height="5" fill="#fff"/>
<rect x="461" y="508" width="3" height="5" fill="#fff"/>
<rect x="467" y="508" width="3" height="5" fill="#fff"/>
<polygon points="418,492 420,492 421,493.5 420,495 418,495" fill="#fff"/>
<rect x="448" y="347" width="25" height="1" fill="#fff"/>
<rect x="418" y="414" width="55" height="1" fill="#fff"/>
<rect x="424" y="481" width="49" height="1" fill="#fff"/>
<rect x="224" y="315" width="55" height="25" fill="#000"/>
<rect x="230" y="340" width="49" height="8" fill="#000"/>
<rect x="226" y="317" width="3" height="5" fill="#fff"/>
<rect x="232" y="317" width="3" height="5" fill="#fff"/>
<rect x="238" y="317" width="3" height="5" fill="#fff"/>
<rect x="243" y="317" width="4" height="5" fill="#fff"/>
<rect x="249" y="317" width="4" height="5" fill="#fff"/>
<rect x="255" y="317" width="4" height="5" fill="#fff"/>
<rect x="261" y="317" width="3" height="5" fill="#fff"/>
<rect x="267" y="317" width="3" height="5" fill="#fff"/>
<rect x="273" y="317" width="3" height="5" fill="#fff"/>
<rect x="232" y="324" width="3" height="6" fill="#fff"/>
<rect x="238" y="324" width="3" height="6" fill="#fff"/>
<rect x="243" y="324" width="4" height="6" fill="#fff"/>
<rect x="249" y="324" width="4" height="6" fill="#fff"/>
<rect x="255" y="324" width="4" height="6" fill="#fff"/>
<rect x="261" y="324" width="3" height="6" fill="#fff"/>
<rect x="267" y="324" width="3" height="6" fill="#fff"/>
<rect x="273" y="324" width="3" height="6" fill="#fff"/>
<rect x="226" y="333" width="3" height="5" fill="#fff"/>
<rect x="232" y="333" width="3" height="5" fill="#fff"/>
<rect x="238" y="333" width="3" height="5" fill="#fff"/>
<rect x="243" y="333" width="4" height="5" fill="#fff"/>
<rect x="249" y="333" width="4" height="5" fill="#fff"/>
<rect x="255" y="333" width="4" height="5" fill="#fff"/>
<rect x="261" y="333" width="3" height="5" fill="#fff"/>
<rect x="267" y="333" width="3" height="5" fill="#fff"/>
<rect x="273" y="333" width="3" height="5" fill="#fff"/>
<rect x="232" y="341" width="3" height="5" fill="#fff"/>
<rect x="238" y="341" width="3" height="5" fill="#fff"/>
<rect x="243" y="341" width="4" height="5" fill="#fff"/>
<rect x="249" y="341" width="4" height="5" fill="#fff"/>
<rect x="255" y="341" width="4" height="5" fill="#fff"/>
<rect x="261" y="341" width="3" height="5" fill="#fff"/>
<rect x="267" y="341" width="3" height="5" fill="#fff"/>
<rect x="273" y="341" width="3" height="5" fill="#fff"/>
<polygon points="224,325 226,325 227,326.5 226,328 224,328" fill="#fff"/>
<rect x="224" y="348" width="55" height="25" fill="#000"/>
<rect x="230" y="373" width="49" height="8" fill="#000"/>
<rect x="226" y="350" width="3" height="5" fill="#fff"/>
<rect x="232" y="350" width="3" height="5" fill="#fff"/>
<rect x="238" y="350" width="3" height="5" fill="#fff"/>
<rect x="243" y="350" width="4" height="5" fill="#fff"/>
<rect x="249" y="350" width="4" height="5" fill="#fff"/>
<rect x="255" y="350" width="4" height="5" fill="#fff"/>
<rect x="261" y="350" width="3" height="5" fill="#fff"/>
<rect x="267" y="350" width="3" height="5" fill="#fff"/>
<rect x="273" y="350" width="3" height="5" fill="#fff"/>
<rect x="232" y="357" width="3" height="6" fill="#fff"/>
<rect x="238" y="357" width="3" height="6" fill="#fff"/>
<rect x="243" y="357" width="4" height="6" fill="#fff"/>
<rect x="249" y="357" width="4" height="6" fill="#fff"/>
<rect x="255" y="357" width="4" height="6" fill="#fff"/>
<rect x="261" y="357" width="3" height="6" fill="#fff"/>
<rect x="267" y="357" width="3" height="6" fill="#fff"/>
<rect x="273" y="357" width="3" height="6" fill="#fff"/>
<rect x="226" y="366" width="3" height="5" fill="#fff"/>
<rect x="232" y="366" width="3" height="5" fill="#fff"/>
<rect x="238" y="366" width="3" height="5" fill="#fff"/>
<rect x="243" y="366" width="4" height="5" fill="#fff"/>
<rect x="249" y="366" width="4" height="5" fill="#fff"/>
<rect x="255" y="366" width="4" height="5" fill="#fff"/>
<rect x="261" y="366" width="3" height="5" fill="#fff"/>
<rect x="267" y="366" width="3" height="5" fill="#fff"/>
<rect x="273" y="366" width="3" height="5" fill="#fff"/>
<rect x="232" y="374" width="3" height="5" fill="#fff"/>
<rect x="238" y="374" width="3" height="5" fill="#fff"/>
<rect x="243" y="374" width="4" height="5" fill="#fff"/>
<rect x="249" y="374" width="4" height="5" fill="#fff"/>
<rect x="255" y="374" width="4" height="5" fill="#fff"/>
<rect x="261" y="374" width="3" height="5" fill="#fff"/>
<rect x="267" y="374" width="3" height="5" fill="#fff"/>
<rect x="273" y="374" width="3" height="5" fill="#fff"/>
<polygon points="224,358 226,358 227,359.5 226,361 224,361" fill="#fff"/>
<rect x="224" y="381" width="55" height="25" fill="#000"/>
<rect x="230" y="406" width="49" height="9" fill="#000"/>
<rect x="226" y="384" width="3" height="5" fill="#fff"/>
<rect x="232" y="384" width="3" height="5" fill="#fff"/>
<rect x="238" y="384" width="3" height="5" fill="#fff"/>
<rect x="243" y="384" width="4" height="5" fill="#fff"/>
<rect x="249" y="384" width="4" height="5" fill="#fff"/>
<rect x="255" y="384" width="4" height="5" fill="#fff"/>
<rect x="261" y="384" width="3" height="5" fill="#fff"/>
<rect x="267" y="384" width="3" height="5" fill="#fff"/>
<rect x="273" y="384" width="3" height="5" fill="#fff"/>
<rect x="232" y="391" width="3" height="6" fill="#fff"/>
<rect x="238" y="391" width="3" height="6" fill="#fff"/>
<rect x="243" y="391" width="4" height="6" fill="#fff"/>
<rect x="249" y="391" width="4" height="6" fill="#fff"/>
<rect x="255" y="391" width="4" height="6" fill="#fff"/>
<rect x="261" y="391" width="3" height="6" fill="#fff"/>
<rect x="267" y="391" width="3" height="6" fill="#fff"/>
<rect x="273" y="391" width="3" height="6" fill="#fff"/>
<rect x="226" y="400" width="3" height="5" fill="#fff"/>
<rect x="232" y="400" width="3" height="5" fill="#fff"/>
<rect x="238" y="400" width="3" height="5" fill="#fff"/>
<rect x="243" y="400" width="4" height="5" fill="#fff"/>
<rect x="249" y="400" width="4" height="5" fill="#fff"/>
<rect x="255" y="400" width="4" height="5" fill="#fff"/>
<rect x="261" y="400" width="3" height="5" fill="#fff"/>
<rect x="267" y="400" width="3" height="5" fill="#fff"/>
<rect x="273" y="400" width="3" height="5" fill="#fff"/>
<rect x="232" y="408" width="3" height="5" fill="#fff"/>
<rect x="238" y="408" width="3" height="5" fill="#fff"/>
<rect x="243" y="408" width="4" height="5" fill="#fff"/>
<rect x="249" y="408" width="4" height="5" fill="#fff"/>
<rect x="255" y="408" width="4" height="5" fill="#fff"/>
<rect x="261" y="408" width="3" height="5" fill="#fff"/>
<rect x="267" y="408" width="3" height="5" fill="#fff"/>
<rect x="273" y="408" width="3" height="5" fill="#fff"/>
<polygon points="224,392 226,392 227,393.5 226,395 224,395" fill="#fff"/>
<rect x="224" y="415" width="55" height="25" fill="#000"/>
<rect x="230" y="440" width="49" height="8" fill="#000"/>
<rect x="226" y="417" width="3" height="5" fill="#fff"/>
<rect x="232" y="417" width="3" height="5" fill="#fff"/>
<rect x="238" y="417" width="3" height="5" fill="#fff"/>
<rect x="243" y="417" width="4" height="5" fill="#fff"/>
<rect x="249" y="417" width="4" height="5" fill="#fff"/>
<rect x="255" y="417" width="4" height="5" fill="#fff"/>
<rect x="261" y="417" width="3" height="5" fill="#fff"/>
<rect x="267" y="417" width="3" height="5" fill="#fff"/>
<rect x="273" y="417" width="3" height="5" fill="#fff"/>
<rect x="232" y="424" width="3" height="6" fill="#fff"/>
<rect x="238" y="424" width="3" height="6" fill="#fff"/>
<rect x="243" y="424" width="4" height="6" fill="#fff"/>
<rect x="249" y="424" width="4" height="6" fill="#fff"/>
<rect x="255" y="424" width="4" height="6" fill="#fff"/>
<rect x="261" y="424" width="3" height="6" fill="#fff"/>
<rect x="267" y="424" width="3" height="6" fill="#fff"/>
<rect x="273" y="424" width="3" height="6" fill="#fff"/>
<rect x="226" y="433" width="3" height="5" fill="#fff"/>
<rect x="232" y="433" width="3" height="5" fill="#fff"/>
<rect x="238" y="433" width="3" height="5" fill="#fff"/>
<rect x="243" y="433" width="4" height="5" fill="#fff"/>
<rect x="249" y="433" width="4" height="5" fill="#fff"/>
<rect x="255" y="433" width="4" height="5" fill="#fff"/>
<rect x="261" y="433" width="3" height="5" fill="#fff"/>
<rect x="267" y="433" width="3" height="5" fill="#fff"/>
<rect x="273" y="433" width="3" height="5" fill="#fff"/>
<rect x="232" y="441" width="3" height="5" fill="#fff"/>
<rect x="238" y="441" width="3" height="5" fill="#fff"/>
<rect x="243" y="441" width="4" height="5" fill="#fff"/>
<rect x="249" y="441" width="4" height="5" fill="#fff"/>
<rect x="255" y="441" width="4" height="5" fill="#fff"/>
<rect x="261" y="441" width="3" height="5" fill="#fff"/>
<rect x="267" y="441" width="3" height="5" fill="#fff"/>
<rect x="273" y="441" width="3" height="5" fill="#fff"/>
<polygon points="224,425 226,425 227,426.5 226,428 224,428" fill="#fff"/>
<rect x="224" y="448" width="55" height="25" fill="#000"/>
<rect x="230" y="473" width="49" height="8" fill="#000"/>
<rect x="226" y="451" width="3" height="5" fill="#fff"/>
<rect x="232" y="451" width="3" height="5" fill="#fff"/>
<rect x="238" y="451" width="3" height="5" fill="#fff"/>
<rect x="243" y="451" width="4" height="5" fill="#fff"/>
<rect x="249" y="451" width="4" height="5" fill="#fff"/>
<rect x="255" y="451" width="4" height="5" fill="#fff"/>
<rect x="261" y="451" width="3" height="5" fill="#fff"/>
<rect x="267" y="451" width="3" height="5" fill="#fff"/>
<rect x="273" y="451" width="3" height="5" fill="#fff"/>
<rect x="232" y="458" width="3" height="6" fill="#fff"/>
<rect x="238" y="458" width="3" height="6" fill="#fff"/>
<rect x="243" y="458" width="4" height="6" fill="#fff"/>
<rect x="249" y="458" width="4" height="6" fill="#fff"/>
<rect x="255" y="458" width="4" height="6" fill="#fff"/>
<rect x="261" y="458" width="3" height="6" fill="#fff"/>
<rect x="267" y="458" width="3" height="6" fill="#fff"/>
<rect x="273" y="458" width="3" height="6" fill="#fff"/>
<rect x="226" y="467" width="3" height="5" fill="#fff"/>
<rect x="232" y="467" width="3" height="5" fill="#fff"/>
<rect x="238" y="467" width="3" height="5" fill="#fff"/>
<rect x="243" y="467" width="4" height="5" fill="#fff"/>
<rect x="249" y="467" width="4" height="5" fill="#fff"/>
<rect x="255" y="467" width="4" height="5" fill="#fff"/>
<rect x="261" y="467" width="3" height="5" fill="#fff"/>
<rect x="267" y="467" width="3" height="5" fill="#fff"/>
<rect x="273" y="467" width="3" height="5" fill="#fff"/>
<rect x="232" y="475" width="3" height="5" fill="#fff"/>
<rect x="238" y="475" width="3" height="5" fill="#fff"/>
<rect x="243" y="475" width="4" height="5" fill="#fff"/>
<rect x="249" y="475" width="4" height="5" fill="#fff"/>
<rect x="255" y="475" width="4" height="5" fill="#fff"/>
<rect x="261" y="475" width="3" height="5" fill="#fff"/>
<rect x="267" y="475" width="3" height="5" fill="#fff"/>
<rect x="273" y="475" width="3" height="5" fill="#fff"/>
<polygon points="224,459 226,459 227,460.5 226,462 224,462" fill="#fff"/>
<rect x="254" y="347" width="25" height="1" fill="#fff"/>
<rect x="224" y="414" width="55" height="1" fill="#fff"/>
<rect x="285" y="315" width="55" height="25" fill="#000"/>
<rect x="291" y="340" width="49" height="8" fill="#000"/>
<rect x="287" y="317" width="3" height="5" fill="#fff"/>
<rect x="293" y="317" width="3" height="5" fill="#fff"/>
<rect x="299" y="317" width="3" height="5" fill="#fff"/>
<rect x="304" y="317" width="4" height="5" fill="#fff"/>
<rect x="310" y="317" width="4" height="5" fill="#fff"/>
<rect x="316" y="317" width="4" height="5" fill="#fff"/>
<rect x="322" y="317" width="3" height="5" fill="#fff"/>
<rect x="328" y="317" width="3" height="5" fill="#fff"/>
<rect x="334" y="317" width="3" height="5" fill="#fff"/>
<rect x="293" y="324" width="3" height="6" fill="#fff"/>
<rect x="299" y="324" width="3" height="6" fill="#fff"/>
<rect x="304" y="324" width="4" height="6" fill="#fff"/>
<rect x="310" y="324" width="4" height="6" fill="#fff"/>
<rect x="316" y="324" width="4" height="6" fill="#fff"/>
<rect x="322" y="324" width="3" height="6" fill="#fff"/>
<rect x="328" y="324" width="3" height="6" fill="#fff"/>
<rect x="334" y="324" width="3" height="6" fill="#fff"/>
<rect x="287" y="333" width="3" height="5" fill="#fff"/>
<rect x="293" y="333" width="3" height="5" fill="#fff"/>
<rect x="299" y="333" width="3" height="5" fill="#fff"/>
<rect x="304" y="333" width="4" height="5" fill="#fff"/>
<rect x="310" y="333" width="4" height="5" fill="#fff"/>
<rect x="316" y="333" width="4" height="5" fill="#fff"/>
<rect x="322" y="333" width="3" height="5" fill="#fff"/>
<rect x="328" y="333" width="3" height="5" fill="#fff"/>
<rect x="334" y="333" width="3" height="5" fill="#fff"/>
<rect x="293" y="341" width="3" height="5" fill="#fff"/>
<rect x="299" y="341" width="3" height="5" fill="#fff"/>
<rect x="304" y="341" width="4" height="5" fill="#fff"/>
<rect x="310" y="341" width="4" height="5" fill="#fff"/>
<rect x="316" y="341" width="4" height="5" fill="#fff"/>
<rect x="322" y="341" width="3" height="5" fill="#fff"/>
<rect x="328" y="341" width="3" height="5" fill="#fff"/>
<rect x="334" y="341" width="3" height="5" fill="#fff"/>
<polygon points="285,325 287,325 288,326.5 287,328 285,328" fill="#fff"/>
<rect x="285" y="348" width="55" height="25" fill="#000"/>
<rect x="291" y="373" width="49" height="8" fill="#000"/>
<rect x="287" y="350" width="3" height="5" fill="#fff"/>
<rect x="293" y="350" width="3" height="5" fill="#fff"/>
<rect x="299" y="350" width="3" height="5" fill="#fff"/>
<rect x="304" y="350" width="4" height="5" fill="#fff"/>
<rect x="310" y="350" width="4" height="5" fill="#fff"/>
<rect x="316" y="350" width="4" height="5" fill="#fff"/>
<rect x="322" y="350" width="3" height="5" fill="#fff"/>
<rect x="328" y="350" width="3" height="5" fill="#fff"/>
<rect x="334" y="350" width="3" height="5" fill="#fff"/>
<rect x="293" y="357" width="3" height="6" fill="#fff"/>
<rect x="299" y="357" width="3" height="6" fill="#fff"/>
<rect x="304" y="357" width="4" height="6" fill="#fff"/>
<rect x="310" y="357" width="4" height="6" fill="#fff"/>
<rect x="316" y="357" width="4" height="6" fill="#fff"/>
<rect x="322" y="357" width="3" height="6" fill="#fff"/>
<rect x="328" y="357" width="3" height="6" fill="#fff"/>
<rect x="334" y="357" width="3" height="6" fill="#fff"/>
<rect x="287" y="366" width="3" height="5" fill="#fff"/>
<rect x="293" y="366" width="3" height="5" fill="#fff"/>
<rect x="299" y="366" width="3" height="5" fill="#fff"/>
<rect x="304" y="366" width="4" height="5" fill="#fff"/>
<rect x="310" y="366" width="4" height="5" fill="#fff"/>
<rect x="316" y="366" width="4" height="5" fill="#fff"/>
<rect x="322" y="366" width="3" height="5" fill="#fff"/>
<rect x="328" y="366" width="3" height="5" fill="#fff"/>
<rect x="334" y="366" width="3" height="5" fill="#fff"/>
<rect x="293" y="374" width="3" height="5" fill="#fff"/>
<rect x="299" y="374" width="3" height="5" fill="#fff"/>
<rect x="304" y="374" width="4" height="5" fill="#fff"/>
<rect x="310" y="374" width="4" height="5" fill="#fff"/>
<rect x="316" y="374" width="4" height="5" fill="#fff"/>
<rect x="322" y="374" width="3" height="5" fill="#fff"/>
<rect x="328" y="374" width="3" height="5" fill="#fff"/>
<rect x="334" y="374" width="3" height="5" fill="#fff"/>
<polygon points="285,358 287,358 288,359.5 287,361 285,361" fill="#fff"/>
<rect x="285" y="381" width="55" height="25" fill="#000"/>
<rect x="291" y="406" width="49" height="9" fill="#000"/>
<rect x="287" y="384" width="3" height="5" fill="#fff"/>
<rect x="293" y="384" width="3" height="5" fill="#fff"/>
<rect x="299" y="384" width="3" height="5" fill="#fff"/>
<rect x="304" y="384" width="4" height="5" fill="#fff"/>
<rect x="310" y="384" width="4" height="5" fill="#fff"/>
<rect x="316" y="384" width="4" height="5" fill="#fff"/>
<rect x="322" y="384" width="3" height="5" fill="#fff"/>
<rect x="328" y="384" width="3" height="5" fill="#fff"/>
<rect x="334" y="384" width="3" height="5" fill="#fff"/>
<rect x="293" y="391" width="3" height="6" fill="#fff"/>
<rect x="299" y="391" width="3" height="6" fill="#fff"/>
<rect x="304" y="391" width="4" height="6" fill="#fff"/>
<rect x="310" y="391" width="4" height="6" fill="#fff"/>
<rect x="316" y="391" width="4" height="6" fill="#fff"/>
<rect x="322" y="391" width="3" height="6" fill="#fff"/>
<rect x="328" y="391" width="3" height="6" fill="#fff"/>
<rect x="334" y="391" width="3" height="6" fill="#fff"/>
<rect x="287" y="400" width="3" height="5" fill="#fff"/>
<rect x="293" y="400" width="3" height="5" fill="#fff"/>
<rect x="299" y="400" width="3" height="5" fill="#fff"/>
<rect x="304" y="400" width="4" height="5" fill="#fff"/>
<rect x="310" y="400" width="4" height="5" fill="#fff"/>
<rect x="316" y="400" width="4" height="5" fill="#fff"/>
<rect x="322" y="400" width="3" height="5" fill="#fff"/>
<rect x="328" y="400" width="3" height="5" fill="#fff"/>
<rect x="334" y="400" width="3" height="5" fill="#fff"/>
<rect x="293" y="408" width="3" height="5" fill="#fff"/>
<rect x="299" y="408" width="3" height="5" fill="#fff"/>
<rect x="304" y="408" width="4" height="5" fill="#fff"/>
<rect x="310" y="408" width="4" height="5" fill="#fff"/>
<rect x="316" y="408" width="4" height="5" fill="#fff"/>
<rect x="322" y="408" width="3" height="5" fill="#fff"/>
<rect x="328" y="408" width="3" height="5" fill="#fff"/>
<rect x="334" y="408" width="3" height="5" fill="#fff"/>
<polygon points="285,392 287,392 288,393.5 287,395 285,395" fill="#fff"/>
<rect x="285" y="415" width="55" height="25" fill="#000"/>
<rect x="291" y="440" width="49" height="8" fill="#000"/>
<rect x="287" y="417" width="3" height="5" fill="#fff"/>
<rect x="293" y="417" width="3" height="5" fill="#fff"/>
<rect x="299" y="417" width="3" height="5" fill="#fff"/>
<rect x="304" y="417" width="4" height="5" fill="#fff"/>
<rect x="310" y="417" width="4" height="5" fill="#fff"/>
<rect x="316" y="417" width="4" height="5" fill="#fff"/>
<rect x="322" y="417" width="3" height="5" fill="#fff"/>
<rect x="328" y="417" width="3" height="5" fill="#fff"/>
<rect x="334" y="417" width="3" height="5" fill="#fff"/>
<rect x="293" y="424" width="3" height="6" fill="#fff"/>
<rect x="299" y="424" width="3" height="6" fill="#fff"/>
<rect x="304" y="424" width="4" height="6" fill="#fff"/>
<rect x="310" y="424" width="4" height="6" fill="#fff"/>
<rect x="316" y="424" width="4" height="6" fill="#fff"/>
<rect x="322" y="424" width="3" height="6" fill="#fff"/>
<rect x="328" y="424" width="3" height="6" fill="#fff"/>
<rect x="334" y="424" width="3" height="6" fill="#fff"/>
<rect x="287" y="433" width="3" height="5" fill="#fff"/>
<rect x="293" y="433" width="3" height="5" fill="#fff"/>
<rect x="299" y="433" width="3" height="5" fill="#fff"/>
<rect x="304" y="433" width="4" height="5" fill="#fff"/>
<rect x="310" y="433" width="4" height="5" fill="#fff"/>
<rect x="316" y="433" width="4" height="5" fill="#fff"/>
<rect x="322" y="433" width="3" height="5" fill="#fff"/>
<rect x="328" y="433" width="3" height="5" fill="#fff"/>
<rect x="334" y="433" width="3" height="5" fill="#fff"/>
<rect x="293" y="441" width="3" height="5" fill="#fff"/>
<rect x="299" y="441" width="3" height="5" fill="#fff"/>
<rect x="304" y="441" width="4" height="5" fill="#fff"/>
<rect x="310" y="441" width="4" height="5" fill="#fff"/>
<rect x="316" y="441" width="4" height="5" fill="#fff"/>
<rect x="322" y="441" width="3" height="5" fill="#fff"/>
<rect x="328" y="441" width="3" height="5" fill="#fff"/>
<rect x="334" y="441" width="3" height="5" fill="#fff"/>
<polygon points="285,425 287,425 288,426.5 287,428 285,428" fill="#fff"/>
<rect x="285" y="448" width="55" height="25" fill="#000"/>
<rect x="291" y="473" width="49" height="8" fill="#000"/>
<rect x="287" y="451" width="3" height="5" fill="#fff"/>
<rect x="293" y="451" width="3" height="5" fill="#fff"/>
<rect x="299" y="451" width="3" height="5" fill="#fff"/>
<rect x="304" y="451" width="4" height="5" fill="#fff"/>
<rect x="310" y="451" width="4" height="5" fill="#fff"/>
<rect x="316" y="451" width="4" height="5" fill="#fff"/>
<rect x="322" y="451" width="3" height="5" fill="#fff"/>
<rect x="328" y="451" width="3" height="5" fill="#fff"/>
<rect x="334" y="451" width="3" height="5" fill="#fff"/>
<rect x="293" y="458" width="3" height="6" fill="#fff"/>
<rect x="299" y="458" width="3" height="6" fill="#fff"/>
<rect x="304" y="458" width="4" height="6" fill="#fff"/>
<rect x="310" y="458" width="4" height="6" fill="#fff"/>
<rect x="316" y="458" width="4" height="6" fill="#fff"/>
<rect x="322" y="458" width="3" height="6" fill="#fff"/>
<rect x="328" y="458" width="3" height="6" fill="#fff"/>
<rect x="334" y="458" width="3" height="6" fill="#fff"/>
<rect x="287" y="467" width="3" height="5" fill="#fff"/>
<rect x="293" y="467" width="3" height="5" fill="#fff"/>
<rect x="299" y="467" width="3" height="5" fill="#fff"/>
<rect x="304" y="467" width="4" height="5" fill="#fff"/>
<rect x="310" y="467" width="4" height="5" fill="#fff"/>
<rect x="316" y="467" width="4" height="5" fill="#fff"/>
<rect x="322" y="467" width="3" height="5" fill="#fff"/>
<rect x="328" y="467" width="3" height="5" fill="#fff"/>
<rect x="334" y="467" width="3" height="5" fill="#fff"/>
<rect x="293" y="475" width="3" height="5" fill="#fff"/>
<rect x="299" y="475" width="3" height="5" fill="#fff"/>
<rect x="304" y="475" width="4" height="5" fill="#fff"/>
<rect x="310" y="475" width="4" height="5" fill="#fff"/>
<rect x="316" y="475" width="4" height="5" fill="#fff"/>
<rect x="322" y="475" width="3" height="5" fill="#fff"/>
<rect x="328" y="475" width="3" height="5" fill="#fff"/>
<rect x="334" y="475" width="3" height="5" fill="#fff"/>
<polygon points="285,459 287,459 288,460.5 287,462 285,462" fill="#fff"/>
<rect x="315" y="347" width="25" height="1" fill="#fff"/>
<rect x="285" y="414" width="55" height="1" fill="#fff"/>
<rect x="476" y="315" width="55" height="25" fill="#000"/>
<rect x="482" y="340" width="49" height="8" fill="#000"/>
<rect x="478" y="317" width="3" height="5" fill="#fff"/>
<rect x="484" y="317" width="3" height="5" fill="#fff"/>
<rect x="490" y="317" width="3" height="5" fill="#fff"/>
<rect x="495" y="317" width="4" height="5" fill="#fff"/>
<rect x="501" y="317" width="4" height="5" fill="#fff"/>
<rect x="507" y="317" width="4" height="5" fill="#fff"/>
<rect x="513" y="317" width="3" height="5" fill="#fff"/>
<rect x="519" y="317" width="3" height="5" fill="#fff"/>
<rect x="525" y="317" width="3" height="5" fill="#fff"/>
<rect x="484" y="324" width="3" height="6" fill="#fff"/>
<rect x="490" y="324" width="3" height="6" fill="#fff"/>
<rect x="495" y="324" width="4" height="6" fill="#fff"/>
<rect x="501" y="324" width="4" height="6" fill="#fff"/>
<rect x="507" y="324" width="4" height="6" fill="#fff"/>
<rect x="513" y="324" width="3" height="6" fill="#fff"/>
<rect x="519" y="324" width="3" height="6" fill="#fff"/>
<rect x="525" y="324" width="3" height="6" fill="#fff"/>
<rect x="478" y="333" width="3" height="5" fill="#fff"/>
<rect x="484" y="333" width="3" height="5" fill="#fff"/>
<rect x="490" y="333" width="3" height="5" fill="#fff"/>
<rect x="495" y="333" width="4" height="5" fill="#fff"/>
<rect x="501" y="333" width="4" height="5" fill="#fff"/>
<rect x="507" y="333" width="4" height="5" fill="#fff"/>
<rect x="513" y="333" width="3" height="5" fill="#fff"/>
<rect x="519" y="333" width="3" height="5" fill="#fff"/>
<rect x="525" y="333" width="3" height="5" fill="#fff"/>
<rect x="484" y="341" width="3" height="5" fill="#fff"/>
<rect x="490" y="341" width="3" height="5" fill="#fff"/>
<rect x="495" y="341" width="4" height="5" fill="#fff"/>
<rect x="501" y="341" width="4" height="5" fill="#fff"/>
<rect x="507" y="341" width="4" height="5" fill="#fff"/>
<rect x="513" y="341" width="3" height="5" fill="#fff"/>
<rect x="519" y="341" width="3" height="5" fill="#fff"/>
<rect x="525" y="341" width="3" height="5" fill="#fff"/>
<polygon points="476,325 478,325 479,326.5 478,328 476,328" fill="#fff"/>
<rect x="476" y="348" width="55" height="25" fill="#000"/>
<rect x="482" y="373" width="49" height="8" fill="#000"/>
<rect x="478" y="350" width="3" height="5" fill="#fff"/>
<rect x="484" y="350" width="3" height="5" fill="#fff"/>
<rect x="490" y="350" width="3" height="5" fill="#fff"/>
<rect x="495" y="350" width="4" height="5" fill="#fff"/>
<rect x="501" y="350" width="4" height="5" fill="#fff"/>
<rect x="507" y="350" width="4" height="5" fill="#fff"/>
<rect x="513" y="350" width="3" height="5" fill="#fff"/>
<rect x="519" y="350" width="3" height="5" fill="#fff"/>
<rect x="525" y="350" width="3" height="5" fill="#fff"/>
<rect x="484" y="357" width="3" height="6" fill="#fff"/>
<rect x="490" y="357" width="3" height="6" fill="#fff"/>
<rect x="495" y="357" width="4" height="6" fill="#fff"/>
<rect x="501" y="357" width="4" height="6" fill="#fff"/>
<rect x="507" y="357" width="4" height="6" fill="#fff"/>
<rect x="513" y="357" width="3" height="6" fill="#fff"/>
<rect x="519" y="357" width="3" height="6" fill="#fff"/>
<rect x="525" y="357" width="3" height="6" fill="#fff"/>
<rect x="478" y="366" width="3" height="5" fill="#fff"/>
<rect x="484" y="366" width="3" height="5" fill="#fff"/>
<rect x="490" y="366" width="3" height="5" fill="#fff"/>
<rect x="495" y="366" width="4" height="5" fill="#fff"/>
<rect x="501" y="366" width="4" height="5" fill="#fff"/>
<rect x="507" y="366" width="4" height="5" fill="#fff"/>
<rect x="513" y="366" width="3" height="5" fill="#fff"/>
<rect x="519" y="366" width="3" height="5" fill="#fff"/>
<rect x="525" y="366" width="3" height="5" fill="#fff"/>
<rect x="484" y="374" width="3" height="5" fill="#fff"/>
<rect x="490" y="374" width="3" height="5" fill="#fff"/>
<rect x="495" y="374" width="4" height="5" fill="#fff"/>
<rect x="501" y="374" width="4" height="5" fill="#fff"/>
<rect x="507" y="374" width="4" height="5" fill="#fff"/>
<rect x="513" y="374" width="3" height="5" fill="#fff"/>
<rect x="519" y="374" width="3" height="5" fill="#fff"/>
<rect x="525" y="374" width="3" height="5" fill="#fff"/>
<polygon points="476,358 478,358 479,359.5 478,361 476,361" fill="#fff"/>
<rect x="476" y="381" width="55" height="25" fill="#000"/>
<rect x="482" y="406" width="49" height="9" fill="#000"/>
<rect x="478" y="384" width="3" height="5" fill="#fff"/>
<rect x="484" y="384" width="3" height="5" fill="#fff"/>
<rect x="490" y="384" width="3" height="5" fill="#fff"/>
<rect x="495" y="384" width="4" height="5" fill="#fff"/>
<rect x="501" y="384" width="4" height="5" fill="#fff"/>
<rect x="507" y="384" width="4" height="5" fill="#fff"/>
<rect x="513" y="384" width="3" height="5" fill="#fff"/>
<rect x="519" y="384" width="3" height="5" fill="#fff"/>
<rect x="525" y="384" width="3" height="5" fill="#fff"/>
<rect x="484" y="391" width="3" height="6" fill="#fff"/>
<rect x="490" y="391" width="3" height="6" fill="#fff"/>
<rect x="495" y="391" width="4" height="6" fill="#fff"/>
<rect x="501" y="391" width="4" height="6" fill="#fff"/>
<rect x="507" y="391" width="4" height="6" fill="#fff"/>
<rect x="513" y="391" width="3" height="6" fill="#fff"/>
<rect x="519" y="391" width="3" height="6" fill="#fff"/>
<rect x="525" y="391" width="3" height="6" fill="#fff"/>
<rect x="478" y="400" width="3" height="5" fill="#fff"/>
<rect x="484" y="400" width="3" height="5" fill="#fff"/>
<rect x="490" y="400" width="3" height="5" fill="#fff"/>
<rect x="495" y="400" width="4" height="5" fill="#fff"/>
<rect x="501" y="400" width="4" height="5" fill="#fff"/>
<rect x="507" y="400" width="4" height="5" fill="#fff"/>
<rect x="513" y="400" width="3" height="5" fill="#fff"/>
<rect x="519" y="400" width="3" height="5" fill="#fff"/>
<rect x="525" y="400" width="3" height="5" fill="#fff"/>
<rect x="484" y="408" width="3" height="5" fill="#fff"/>
<rect x="490" y="408" width="3" height="5" fill="#fff"/>
<rect x="495" y="408" width="4" height="5" fill="#fff"/>
<rect x="501" y="408" width="4" height="5" fill="#fff"/>
<rect x="507" y="408" width="4" height="5" fill="#fff"/>
<rect x="513" y="408" width="3" height="5" fill="#fff"/>
<rect x="519" y="408" width="3" height="5" fill="#fff"/>
<rect x="525" y="408" width="3" height="5" fill="#fff"/>
<polygon points="476,392 478,392 479,393.5 478,395 476,395" fill="#fff"/>
<rect x="476" y="415" width="55" height="25" fill="#000"/>
<rect x="482" y="440" width="49" height="8" fill="#000"/>
<rect x="478" y="417" width="3" height="5" fill="#fff"/>
<rect x="484" y="417" width="3" height="5" fill="#fff"/>
<rect x="490" y="417" width="3" height="5" fill="#fff"/>
<rect x="495" y="417" width="4" height="5" fill="#fff"/>
<rect x="501" y="417" width="4" height="5" fill="#fff"/>
<rect x="507" y="417" width="4" height="5" fill="#fff"/>
<rect x="513" y="417" width="3" height="5" fill="#fff"/>
<rect x="519" y="417" width="3" height="5" fill="#fff"/>
<rect x="525" y="417" width="3" height="5" fill="#fff"/>
<rect x="484" y="424" width="3" height="6" fill="#fff"/>
<rect x="490" y="424" width="3" height="6" fill="#fff"/>
<rect x="495" y="424" width="4" height="6" fill="#fff"/>
<rect x="501" y="424" width="4" height="6" fill="#fff"/>
<rect x="507" y="424" width="4" height="6" fill="#fff"/>
<rect x="513" y="424" width="3" height="6" fill="#fff"/>
<rect x="519" y="424" width="3" height="6" fill="#fff"/>
<rect x="525" y="424" width="3" height="6" fill="#fff"/>
<rect x="478" y="433" width="3" height="5" fill="#fff"/>
<rect x="484" y="433" width="3" height="5" fill="#fff"/>
<rect x="490" y="433" width="3" height="5" fill="#fff"/>
<rect x="495" y="433" width="4" height="5" fill="#fff"/>
<rect x="501" y="433" width="4" height="5" fill="#fff"/>
<rect x="507" y="433" width="4" height="5" fill="#fff"/>
<rect x="513" y="433" width="3" height="5" fill="#fff"/>
<rect x="519" y="433" width="3" height="5" fill="#fff"/>
<rect x="525" y="433" width="3" height="5" fill="#fff"/>
<rect x="484" y="441" width="3" height="5" fill="#fff"/>
<rect x="490" y="441" width="3" height="5" fill="#fff"/>
<rect x="495" y="441" width="4" height="5" fill="#fff"/>
<rect x="501" y="441" width="4" height="5" fill="#fff"/>
<rect x="507" y="441" width="4" height="5" fill="#fff"/>
<rect x="513" y="441" width="3" height="5" fill="#fff"/>
<rect x="519" y="441" width="3" height="5" fill="#fff"/>
<rect x="525" y="441" width="3" height="5" fill="#fff"/>
<polygon points="476,425 478,425 479,426.5 478,428 476,428" fill="#fff"/>
<rect x="476" y="448" width="55" height="25" fill="#000"/>
<rect x="482" y="473" width="49" height="8" fill="#000"/>
<rect x="478" y="451" width="3" height="5" fill="#fff"/>
<rect x="484" y="451" width="3" height="5" fill="#fff"/>
<rect x="490" y="451" width="3" height="5" fill="#fff"/>
<rect x="495" y="451" width="4" height="5" fill="#fff"/>
<rect x="501" y="451" width="4" height="5" fill="#fff"/>
<rect x="507" y="451" width="4" height="5" fill="#fff"/>
<rect x="513" y="451" width="3" height="5" fill="#fff"/>
<rect x="519" y="451" width="3" height="5" fill="#fff"/>
<rect x="525" y="451" width="3" height="5" fill="#fff"/>
<rect x="484" y="458" width="3" height="6" fill="#fff"/>
<rect x="490" y="458" width="3" height="6" fill="#fff"/>
<rect x="495" y="458" width="4" height="6" fill="#fff"/>
<rect x="501" y="458" width="4" height="6" fill="#fff"/>
<rect x="507" y="458" width="4" height="6" fill="#fff"/>
<rect x="513" y="458" width="3" height="6" fill="#fff"/>
<rect x="519" y="458" width="3" height="6" fill="#fff"/>
<rect x="525" y="458" width="3" height="6" fill="#fff"/>
<rect x="478" y="467" width="3" height="5" fill="#fff"/>
<rect x="484" y="467" width="3" height="5" fill="#fff"/>
<rect x="490" y="467" width="3" height="5" fill="#fff"/>
<rect x="495" y="467" width="4" height="5" fill="#fff"/>
<rect x="501" y="467" width="4" height="5" fill="#fff"/>
<rect x="507" y="467" width="4" height="5" fill="#fff"/>
<rect x="513" y="467" width="3" height="5" fill="#fff"/>
<rect x="519" y="467" width="3" height="5" fill="#fff"/>
<rect x="525" y="467" width="3" height="5" fill="#fff"/>
<rect x="484" y="475" width="3" height="5" fill="#fff"/>
<rect x="490" y="475" width="3" height="5" fill="#fff"/>
<rect x="495" y="475" width="4" height="5" fill="#fff"/>
<rect x="501" y="475" width="4" height="5" fill="#fff"/>
<rect x="507" y="475" width="4" height="5" fill="#fff"/>
<rect x="513" y="475" width="3" height="5" fill="#fff"/>
<rect x="519" y="475" width="3" height="5" fill="#fff"/>
<rect x="525" y="475" width="3" height="5" fill="#fff"/>
<polygon points="476,459 478,459 479,460.5 478,462 476,462" fill="#fff"/>
<rect x="506" y="347" width="25" height="1" fill="#fff"/>
<rect x="476" y="414" width="55" height="1" fill="#fff"/>
<rect x="537" y="315" width="55" height="25" fill="#000"/>
<rect x="543" y="340" width="49" height="8" fill="#000"/>
<rect x="539" y="317" width="3" height="5" fill="#fff"/>
<rect x="545" y="317" width="3" height="5" fill="#fff"/>
<rect x="551" y="317" width="3" height="5" fill="#fff"/>
<rect x="556" y="317" width="4" height="5" fill="#fff"/>
<rect x="562" y="317" width="4" height="5" fill="#fff"/>
<rect x="568" y="317" width="4" height="5" fill="#fff"/>
<rect x="574" y="317" width="3" height="5" fill="#fff"/>
<rect x="580" y="317" width="3" height="5" fill="#fff"/>
<rect x="586" y="317" width="3" height="5" fill="#fff"/>
<rect x="545" y="324" width="3" height="6" fill="#fff"/>
<rect x="551" y="324" width="3" height="6" fill="#fff"/>
<rect x="556" y="324" width="4" height="6" fill="#fff"/>
<rect x="562" y="324" width="4" height="6" fill="#fff"/>
<rect x="568" y="324" width="4" height="6" fill="#fff"/>
<rect x="574" y="324" width="3" height="6" fill="#fff"/>
<rect x="580" y="324" width="3" height="6" fill="#fff"/>
<rect x="586" y="324" width="3" height="6" fill="#fff"/>
<rect x="539" y="333" width="3" height="5" fill="#fff"/>
<rect x="545" y="333" width="3" height="5" fill="#fff"/>
<rect x="551" y="333" width="3" height="5" fill="#fff"/>
<rect x="556" y="333" width="4" height="5" fill="#fff"/>
<rect x="562" y="333" width="4" height="5" fill="#fff"/>
<rect x="568" y="333" width="4" height="5" fill="#fff"/>
<rect x="574" y="333" width="3" height="5" fill="#fff"/>
<rect x="580" y="333" width="3" height="5" fill="#fff"/>
<rect x="586" y="333" width="3" height="5" fill="#fff"/>
<rect x="545" y="341" width="3" height="5" fill="#fff"/>
<rect x="551" y="341" width="3" height="5" fill="#fff"/>
<rect x="556" y="341" width="4" height="5" fill="#fff"/>
<rect x="562" y="341" width="4" height="5" fill="#fff"/>
<rect x="568" y="341" width="4" height="5" fill="#fff"/>
<rect x="574" y="341" width="3" height="5" fill="#fff"/>
<rect x="580" y="341" width="3" height="5" fill="#fff"/>
<rect x="586" y="341" width="3" height="5" fill="#fff"/>
<polygon points="537,325 539,325 540,326.5 539,328 537,328" fill="#fff"/>
<rect x="537" y="348" width="55" height="25" fill="#000"/>
<rect x="543" y="373" width="49" height="8" fill="#000"/>
<rect x="539" y="350" width="3" height="5" fill="#fff"/>
<rect x="545" y="350" width="3" height="5" fill="#fff"/>
<rect x="551" y="350" width="3" height="5" fill="#fff"/>
<rect x="556" y="350" width="4" height="5" fill="#fff"/>
<rect x="562" y="350" width="4" height="5" fill="#fff"/>
<rect x="568" y="350" width="4" height="5" fill="#fff"/>
<rect x="574" y="350" width="3" height="5" fill="#fff"/>
<rect x="580" y="350" width="3" height="5" fill="#fff"/>
<rect x="586" y="350" width="3" height="5" fill="#fff"/>
<rect x="545" y="357" width="3" height="6" fill="#fff"/>
<rect x="551" y="357" width="3" height="6" fill="#fff"/>
<rect x="556" y="357" width="4" height="6" fill="#fff"/>
<rect x="562" y="357" width="4" height="6" fill="#fff"/>
<rect x="568" y="357" width="4" height="6" fill="#fff"/>
<rect x="574" y="357" width="3" height="6" fill="#fff"/>
<rect x="580" y="357" width="3" height="6" fill="#fff"/>
<rect x="586" y="357" width="3" height="6" fill="#fff"/>
<rect x="539" y="366" width="3" height="5" fill="#fff"/>
<rect x="545" y="366" width="3" height="5" fill="#fff"/>
<rect x="551" y="366" width="3" height="5" fill="#fff"/>
<rect x="556" y="366" width="4" height="5" fill="#fff"/>
<rect x="562" y="366" width="4" height="5" fill="#fff"/>
<rect x="568" y="366" width="4" height="5" fill="#fff"/>
<rect x="574" y="366" width="3" height="5" fill="#fff"/>
<rect x="580" y="366" width="3" height="5" fill="#fff"/>
<rect x="586" y="366" width="3" height="5" fill="#fff"/>
<rect x="545" y="374" width="3" height="5" fill="#fff"/>
<rect x="551" y="374" width="3" height="5" fill="#fff"/>
<rect x="556" y="374" width="4" height="5" fill="#fff"/>
<rect x="562" y="374" width="4" height="5" fill="#fff"/>
<rect x="568" y="374" width="4" height="5" fill="#fff"/>
<rect x="574" y="374" width="3" height="5" fill="#fff"/>
<rect x="580" y="374" width="3" height="5" fill="#fff"/>
<rect x="586" y="374" width="3" height="5" fill="#fff"/>
<polygon points="537,358 539,358 540,359.5 539,361 537,361" fill="#fff"/>
<rect x="537" y="381" width="55" height="25" fill="#000"/>
<rect x="543" y="406" width="49" height="9" fill="#000"/>
<rect x="539" y="384" width="3" height="5" fill="#fff"/>
<rect x="545" y="384" width="3" height="5" fill="#fff"/>
<rect x="551" y="384" width="3" height="5" fill="#fff"/>
<rect x="556" y="384" width="4" height="5" fill="#fff"/>
<rect x="562" y="384" width="4" height="5" fill="#fff"/>
<rect x="568" y="384" width="4" height="5" fill="#fff"/>
<rect x="574" y="384" width="3" height="5" fill="#fff"/>
<rect x="580" y="384" width="3" height="5" fill="#fff"/>
<rect x="586" y="384" width="3" height="5" fill="#fff"/>
<rect x="545" y="391" width="3" height="6" fill="#fff"/>
<rect x="551" y="391" width="3" height="6" fill="#fff"/>
<rect x="556" y="391" width="4" height="6" fill="#fff"/>
<rect x="562" y="391" width="4" height="6" fill="#fff"/>
<rect x="568" y="391" width="4" height="6" fill="#fff"/>
<rect x="574" y="391" width="3" height="6" fill="#fff"/>
<rect x="580" y="391" width="3" height="6" fill="#fff"/>
<rect x="586" y="391" width="3" height="6" fill="#fff"/>
<rect x="539" y="400" width="3" height="5" fill="#fff"/>
<rect x="545" y="400" width="3" height="5" fill="#fff"/>
<rect x="551" y="400" width="3" height="5" fill="#fff"/>
<rect x="556" y="400" width="4" height="5" fill="#fff"/>
<rect x="562" y="400" width="4" height="5" fill="#fff"/>
<rect x="568" y="400" width="4" height="5" fill="#fff"/>
<rect x="574" y="400" width="3" height="5" fill="#fff"/>
<rect x="580" y="400" width="3" height="5" fill="#fff"/>
<rect x="586" y="400" width="3" height="5" fill="#fff"/>
<rect x="545" y="408" width="3" height="5" fill="#fff"/>
<rect x="551" y="408" width="3" height="5" fill="#fff"/>
<rect x="556" y="408" width="4" height="5" fill="#fff"/>
<rect x="562" y="408" width="4" height="5" fill="#fff"/>
<rect x="568" y="408" width="4" height="5" fill="#fff"/>
<rect x="574" y="408" width="3" height="5" fill="#fff"/>
<rect x="580" y="408" width="3" height="5" fill="#fff"/>
<rect x="586" y="408" width="3" height="5" fill="#fff"/>
<polygon points="537,392 539,392 540,393.5 539,395 537,395" fill="#fff"/>
<rect x="537" y="415" width="55" height="25" fill="#000"/>
<rect x="543" y="440" width="49" height="8" fill="#000"/>
<rect x="539" y="417" width="3" height="5" fill="#fff"/>
<rect x="545" y="417" width="3" height="5" fill="#fff"/>
<rect x="551" y="417" width="3" height="5" fill="#fff"/>
<rect x="556" y="417" width="4" height="5" fill="#fff"/>
<rect x="562" y="417" width="4" height="5" fill="#fff"/>
<rect x="568" y="417" width="4" height="5" fill="#fff"/>
<rect x="574" y="417" width="3" height="5" fill="#fff"/>
<rect x="580" y="417" width="3" height="5" fill="#fff"/>
<rect x="586" y="417" width="3" height="5" fill="#fff"/>
<rect x="545" y="424" width="3" height="6" fill="#fff"/>
<rect x="551" y="424" width="3" height="6" fill="#fff"/>
<rect x="556" y="424" width="4" height="6" fill="#fff"/>
<rect x="562" y="424" width="4" height="6" fill="#fff"/>
<rect x="568" y="424" width="4" height="6" fill="#fff"/>
<rect x="574" y="424" width="3" height="6" fill="#fff"/>
<rect x="580" y="424" width="3" height="6" fill="#fff"/>
<rect x="586" y="424" width="3" height="6" fill="#fff"/>
<rect x="539" y="433" width="3" height="5" fill="#fff"/>
<rect x="545" y="433" width="3" height="5" fill="#fff"/>
<rect x="551" y="433" width="3" height="5" fill="#fff"/>
<rect x="556" y="433" width="4" height="5" fill="#fff"/>
<rect x="562" y="433" width="4" height="5" fill="#fff"/>
<rect x="568" y="433" width="4" height="5" fill="#fff"/>
<rect x="574" y="433" width="3" height="5" fill="#fff"/>
<rect x="580" y="433" width="3" height="5" fill="#fff"/>
<rect x="586" y="433" width="3" height="5" fill="#fff"/>
<rect x="545" y="441" width="3" height="5" fill="#fff"/>
<rect x="551" y="441" width="3" height="5" fill="#fff"/>
<rect x="556" y="441" width="4" height="5" fill="#fff"/>
<rect x="562" y="441" width="4" height="5" fill="#fff"/>
<rect x="568" y="441" width="4" height="5" fill="#fff"/>
<rect x="574" y="441" width="3" height="5" fill="#fff"/>
<rect x="580" y="441" width="3" height="5" fill="#fff"/>
<rect x="586" y="441" width="3" height="5" fill="#fff"/>
<polygon points="537,425 539,425 540,426.5 539,428 537,428" fill="#fff"/>
<rect x="537" y="448" width="55" height="25" fill="#000"/>
<rect x="543" y="473" width="49" height="8" fill="#000"/>
<rect x="539" y="451" width="3" height="5" fill="#fff"/>
<rect x="545" y="451" width="3" height="5" fill="#fff"/>
<rect x="551" y="451" width="3" height="5" fill="#fff"/>
<rect x="556" y="451" width="4" height="5" fill="#fff"/>
<rect x="562" y="451" width="4" height="5" fill="#fff"/>
<rect x="568" y="451" width="4" height="5" fill="#fff"/>
<rect x="574" y="451" width="3" height="5" fill="#fff"/>
<rect x="580" y="451" width="3" height="5" fill="#fff"/>
<rect x="586" y="451" width="3" height="5" fill="#fff"/>
<rect x="545" y="458" width="3" height="6" fill="#fff"/>
<rect x="551" y="458" width="3" height="6" fill="#fff"/>
<rect x="556" y="458" width="4" height="6" fill="#fff"/>
<rect x="562" y="458" width="4" height="6" fill="#fff"/>
<rect x="568" y="458" width="4" height="6" fill="#fff"/>
<rect x="574" y="458" width="3" height="6" fill="#fff"/>
<rect x="580" y="458" width="3" height="6" fill="#fff"/>
<rect x="586" y="458" width="3" height="6" fill="#fff"/>
<rect x="539" y="467" width="3" height="5" fill="#fff"/>
<rect x="545" y="467" width="3" height="5" fill="#fff"/>
<rect x="551" y="467" width="3" height="5" fill="#fff"/>
<rect x="556" y="467" width="4" height="5" fill="#fff"/>
<rect x="562" y="467" width="4" height="5" fill="#fff"/>
<rect x="568" y="467" width="4" height="5" fill="#fff"/>
<rect x="574" y="467" width="3" height="5" fill="#fff"/>
<rect x="580" y="467" width="3" height="5" fill="#fff"/>
<rect x="586" y="467" width="3" height="5" fill="#fff"/>
<rect x="545" y="475" width="3" height="5" fill="#fff"/>
<rect x="551" y="475" width="3" height="5" fill="#fff"/>
<rect x="556" y="475" width="4" height="5" fill="#fff"/>
<rect x="562" y="475" width="4" height="5" fill="#fff"/>
<rect x="568" y="475" width="4" height="5" fill="#fff"/>
<rect x="574" y="475" width="3" height="5" fill="#fff"/>
<rect x="580" y="475" width="3" height="5" fill="#fff"/>
<rect x="586" y="475" width="3" height="5" fill="#fff"/>
<polygon points="537,459 539,459 540,460.5 539,462 537,462" fill="#fff"/>
<rect x="567" y="347" width="25" height="1" fill="#fff"/>
<rect x="537" y="414" width="55" height="1" fill="#fff"/>
<rect x="224" y="485" width="55" height="25" fill="#000"/>
<rect x="230" y="510" width="49" height="8" fill="#000"/>
<rect x="226" y="487" width="3" height="5" fill="#fff"/>
<rect x="232" y="487" width="3" height="5" fill="#fff"/>
<rect x="238" y="487" width="3" height="5" fill="#fff"/>
<rect x="243" y="487" width="4" height="5" fill="#fff"/>
<rect x="249" y="487" width="4" height="5" fill="#fff"/>
<rect x="255" y="487" width="4" height="5" fill="#fff"/>
<rect x="261" y="487" width="3" height="5" fill="#fff"/>
<rect x="267" y="487" width="3" height="5" fill="#fff"/>
<rect x="273" y="487" width="3" height="5" fill="#fff"/>
<rect x="232" y="495" width="3" height="5" fill="#fff"/>
<rect x="238" y="495" width="3" height="5" fill="#fff"/>
<rect x="243" y="495" width="4" height="5" fill="#fff"/>
<rect x="249" y="495" width="4" height="5" fill="#fff"/>
<rect x="255" y="495" width="4" height="5" fill="#fff"/>
<rect x="261" y="495" width="3" height="5" fill="#fff"/>
<rect x="267" y="495" width="3" height="5" fill="#fff"/>
<rect x="273" y="495" width="3" height="5" fill="#fff"/>
<rect x="226" y="503" width="3" height="5" fill="#fff"/>
<rect x="232" y="503" width="3" height="5" fill="#fff"/>
<rect x="238" y="503" width="3" height="5" fill="#fff"/>
<rect x="243" y="503" width="4" height="5" fill="#fff"/>
<rect x="249" y="503" width="4" height="5" fill="#fff"/>
<rect x="255" y="503" width="4" height="5" fill="#fff"/>
<rect x="261" y="503" width="3" height="5" fill="#fff"/>
<rect x="267" y="503" width="3" height="5" fill="#fff"/>
<rect x="273" y="503" width="3" height="5" fill="#fff"/>
<rect x="232" y="511" width="3" height="5" fill="#fff"/>
<rect x="238" y="511" width="3" height="5" fill="#fff"/>
<rect x="243" y="511" width="4" height="5" fill="#fff"/>
<rect x="249" y="511" width="4" height="5" fill="#fff"/>
<rect x="255" y="511" width="4" height="5" fill="#fff"/>
<rect x="261" y="511" width="3" height="5" fill="#fff"/>
<rect x="267" y="511" width="3" height="5" fill="#fff"/>
<rect x="273" y="511" width="3" height="5" fill="#fff"/>
<polygon points="224,496 226,496 227,497.5 226,499 224,499" fill="#fff"/>
<rect x="285" y="485" width="55" height="25" fill="#000"/>
<rect x="291" y="510" width="49" height="8" fill="#000"/>
<rect x="287" y="487" width="3" height="5" fill="#fff"/>
<rect x="293" y="487" width="3" height="5" fill="#fff"/>
<rect x="299" y="487" width="3" height="5" fill="#fff"/>
<rect x="304" y="487" width="4" height="5" fill="#fff"/>
<rect x="310" y="487" width="4" height="5" fill="#fff"/>
<rect x="316" y="487" width="4" height="5" fill="#fff"/>
<rect x="322" y="487" width="3" height="5" fill="#fff"/>
<rect x="328" y="487" width="3" height="5" fill="#fff"/>
<rect x="334" y="487" width="3" height="5" fill="#fff"/>
<rect x="293" y="495" width="3" height="5" fill="#fff"/>
<rect x="299" y="495" width="3" height="5" fill="#fff"/>
<rect x="304" y="495" width="4" height="5" fill="#fff"/>
<rect x="310" y="495" width="4" height="5" fill="#fff"/>
<rect x="316" y="495" width="4" height="5" fill="#fff"/>
<rect x="322" y="495" width="3" height="5" fill="#fff"/>
<rect x="328" y="495" width="3" height="5" fill="#fff"/>
<rect x="334" y="495" width="3" height="5" fill="#fff"/>
<rect x="287" y="503" width="3" height="5" fill="#fff"/>
<rect x="293" y="503" width="3" height="5" fill="#fff"/>
<rect x="299" y="503" width="3" height="5" fill="#fff"/>
<rect x="304" y="503" width="4" height="5" fill="#fff"/>
<rect x="310" y="503" width="4" height="5" fill="#fff"/>
<rect x="316" y="503" width="4" height="5" fill="#fff"/>
<rect x="322" y="503" width="3" height="5" fill="#fff"/>
<rect x="328" y="503" width="3" height="5" fill="#fff"/>
<rect x="334" y="503" width="3" height="5" fill="#fff"/>
<rect x="293" y="511" width="3" height="5" fill="#fff"/>
<rect x="299" y="511" width="3" height="5" fill="#fff"/>
<rect x="304" y="511" width="4" height="5" fill="#fff"/>
<rect x="310" y="511" width="4" height="5" fill="#fff"/>
<rect x="316" y="511" width="4" height="5" fill="#fff"/>
<rect x="322" y="511" width="3" height="5" fill="#fff"/>
<rect x="328" y="511" width="3" height="5" fill="#fff"/>
<rect x="334" y="511" width="3" height="5" fill="#fff"/>
<polygon points="285,496 287,496 288,497.5 287,499 285,499" fill="#fff"/>
<rect x="279" y="491" width="6" height="20" fill="#000"/>
<rect x="476" y="485" width="55" height="25" fill="#000"/>
<rect x="482" y="510" width="49" height="8" fill="#000"/>
<rect x="478" y="487" width="3" height="5" fill="#fff"/>
<rect x="484" y="487" width="3" height="5" fill="#fff"/>
<rect x="490" y="487" width="3" height="5" fill="#fff"/>
<rect x="495" y="487" width="4" height="5" fill="#fff"/>
<rect x="501" y="487" width="4" height="5" fill="#fff"/>
<rect x="507" y="487" width="4" height="5" fill="#fff"/>
<rect x="513" y="487" width="3" height="5" fill="#fff"/>
<rect x="519" y="487" width="3" height="5" fill="#fff"/>
<rect x="525" y="487" width="3" height="5" fill="#fff"/>
<rect x="484" y="495" width="3" height="5" fill="#fff"/>
<rect x="490" y="495" width="3" height="5" fill="#fff"/>
<rect x="495" y="495" width="4" height="5" fill="#fff"/>
<rect x="501" y="495" width="4" height="5" fill="#fff"/>
<rect x="507" y="495" width="4" height="5" fill="#fff"/>
<rect x="513" y="495" width="3" height="5" fill="#fff"/>
<rect x="519" y="495" width="3" height="5" fill="#fff"/>
<rect x="525" y="495" width="3" height="5" fill="#fff"/>
<rect x="478" y="503" width="3" height="5" fill="#fff"/>
<rect x="484" y="503" width="3" height="5" fill="#fff"/>
<rect x="490" y="503" width="3" height="5" fill="#fff"/>
<rect x="495" y="503" width="4" height="5" fill="#fff"/>
<rect x="501" y="503" width="4" height="5" fill="#fff"/>
<rect x="507" y="503" width="4" height="5" fill="#fff"/>
<rect x="513" y="503" width="3" height="5" fill="#fff"/>
<rect x="519" y="503" width="3" height="5" fill="#fff"/>
<rect x="525" y="503" width="3" height="5" fill="#fff"/>
<rect x="484" y="511" width="3" height="5" fill="#fff"/>
<rect x="490" y="511" width="3" height="5" fill="#fff"/>
<rect x="495" y="511" width="4" height="5" fill="#fff"/>
<rect x="501" y="511" width="4" height="5" fill="#fff"/>
<rect x="507" y="511" width="4" height="5" fill="#fff"/>
<rect x="513" y="511" width="3" height="5" fill="#fff"/>
<rect x="519" y="511" width="3" height="5" fill="#fff"/>
<rect x="525" y="511" width="3" height="5" fill="#fff"/>
<polygon points="476,496 478,496 479,497.5 478,499 476,499" fill="#fff"/>
<rect x="537" y="485" width="55" height="25" fill="#000"/>
<rect x="543" y="510" width="49" height="8" fill="#000"/>
<rect x="539" y="487" width="3" height="5" fill="#fff"/>
<rect x="545" y="487" width="3" height="5" fill="#fff"/>
<rect x="551" y="487" width="3" height="5" fill="#fff"/>
<rect x="556" y="487" width="4" height="5" fill="#fff"/>
<rect x="562" y="487" width="4" height="5" fill="#fff"/>
<rect x="568" y="487" width="4" height="5" fill="#fff"/>
<rect x="574" y="487" width="3" height="5" fill="#fff"/>
<rect x="580" y="487" width="3" height="5" fill="#fff"/>
<rect x="586" y="487" width="3" height="5" fill="#fff"/>
<rect x="545" y="495" width="3" height="5" fill="#fff"/>
<rect x="551" y="495" width="3" height="5" fill="#fff"/>
<rect x="556" y="495" width="4" height="5" fill="#fff"/>
<rect x="562" y="495" width="4" height="5" fill="#fff"/>
<rect x="568" y="495" width="4" height="5" fill="#fff"/>
<rect x="574" y="495" width="3" height="5" fill="#fff"/>
<rect x="580" y="495" width="3" height="5" fill="#fff"/>
<rect x="586" y="495" width="3" height="5" fill="#fff"/>
<rect x="539" y="503" width="3" height="5" fill="#fff"/>
<rect x="545" y="503" width="3" height="5" fill="#fff"/>
<rect x="551" y="503" width="3" height="5" fill="#fff"/>
<rect x="556" y="503" width="4" height="5" fill="#fff"/>
<rect x="562" y="503" width="4" height="5" fill="#fff"/>
<rect x="568" y="503" width="4" height="5" fill="#fff"/>
<rect x="574" y="503" width="3" height="5" fill="#fff"/>
<rect x="580" y="503" width="3" height="5" fill="#fff"/>
<rect x="586" y="503" width="3" height="5" fill="#fff"/>
<rect x="545" y="511" width="3" height="5" fill="#fff"/>
<rect x="551" y="511" width="3" height="5" fill="#fff"/>
<rect x="556" y="511" width="4" height="5" fill="#fff"/>
<rect x="562" y="511" width="4" height="5" fill="#fff"/>
<rect x="568" y="511" width="4" height="5" fill="#fff"/>
<rect x="574" y="511" width="3" height="5" fill="#fff"/>
<rect x="580" y="511" width="3" height="5" fill="#fff"/>
<rect x="586" y="511" width="3" height="5" fill="#fff"/>
<polygon points="537,496 539,496 540,497.5 539,499 537,499" fill="#fff"/>
<rect x="531" y="491" width="6" height="20" fill="#000"/>
<rect x="348" y="355" width="61" height="25" fill="#000"/>
<rect x="351" y="357" width="3" height="5" fill="#fff"/>
<rect x="351" y="373" width="3" height="5" fill="#fff"/>
<rect x="357" y="357" width="3" height="5" fill="#fff"/>
<rect x="357" y="373" width="3" height="5" fill="#fff"/>
<rect x="363" y="357" width="3" height="5" fill="#fff"/>
<rect x="363" y="373" width="3" height="5" fill="#fff"/>
<rect x="369" y="357" width="3" height="5" fill="#fff"/>
<rect x="369" y="373" width="3" height="5" fill="#fff"/>
<rect x="375" y="357" width="3" height="5" fill="#fff"/>
<rect x="375" y="373" width="3" height="5" fill="#fff"/>
<rect x="380" y="357" width="3" height="5" fill="#fff"/>
<rect x="380" y="373" width="3" height="5" fill="#fff"/>
<rect x="386" y="357" width="3" height="5" fill="#fff"/>
<rect x="386" y="373" width="3" height="5" fill="#fff"/>
<rect x="392" y="357" width="3" height="5" fill="#fff"/>
<rect x="392" y="373" width="3" height="5" fill="#fff"/>
<rect x="398" y="357" width="3" height="5" fill="#fff"/>
<rect x="398" y="373" width="3" height="5" fill="#fff"/>
<rect x="403" y="357" width="3" height="5" fill="#fff"/>
<rect x="403" y="373" width="3" height="5" fill="#fff"/>
<rect x="356" y="365" width="21" height="5" fill="#fff"/>
<rect x="383" y="365" width="21" height="5" fill="#fff"/>
<rect x="348" y="366" width="3" height="4" fill="#fff"/>
<rect x="348" y="386" width="61" height="56" fill="#000"/>
<rect x="351" y="388" width="3" height="5" fill="#fff"/>
<rect x="351" y="435" width="3" height="5" fill="#fff"/>
<rect x="357" y="388" width="3" height="5" fill="#fff"/>
<rect x="357" y="435" width="3" height="5" fill="#fff"/>
<rect x="363" y="388" width="3" height="5" fill="#fff"/>
<rect x="363" y="435" width="3" height="5" fill="#fff"/>
<rect x="369" y="388" width="3" height="5" fill="#fff"/>
<rect x="369" y="435" width="3" height="5" fill="#fff"/>
<rect x="375" y="388" width="3" height="5" fill="#fff"/>
<rect x="375" y="435" width="3" height="5" fill="#fff"/>
<rect x="380" y="388" width="3" height="5" fill="#fff"/>
<rect x="380" y="435" width="3" height="5" fill="#fff"/>
<rect x="386" y="388" width="3" height="5" fill="#fff"/>
<rect x="386" y="435" width="3" height="5" fill="#fff"/>
<rect x="392" y="388" width="3" height="5" fill="#fff"/>
<rect x="392" y="435" width="3" height="5" fill="#fff"/>
<rect x="398" y="388" width="3" height="5" fill="#fff"/>
<rect x="398" y="435" width="3" height="5" fill="#fff"/>
<rect x="403" y="388" width="3" height="5" fill="#fff"/>
<rect x="403" y="435" width="3" height="5" fill="#fff"/>
<rect x="356" y="396" width="21" height="5" fill="#fff"/>
<rect x="383" y="396" width="21" height="5" fill="#fff"/>
<rect x="356" y="427" width="21" height="5" fill="#fff"/>
<rect x="383" y="427" width="21" height="5" fill="#fff"/>
<rect x="348" y="397" width="2" height="4" fill="#fff"/>
<rect x="348" y="428" width="2" height="4" fill="#fff"/>
<rect x="350" y="404" width="3" height="1" fill="#fff"/>
<rect x="355" y="404" width="3" height="1" fill="#fff"/>
<rect x="360" y="404" width="3" height="1" fill="#fff"/>
<rect x="365" y="404" width="3" height="1" fill="#fff"/>
<rect x="370" y="404" width="3" height="1" fill="#fff"/>
<rect x="375" y="404" width="3" height="1" fill="#fff"/>
<rect x="380" y="404" width="3" height="1" fill="#fff"/>
<rect x="385" y="404" width="3" height="1" fill="#fff"/>
<rect x="390" y="404" width="3" height="1" fill="#fff"/>
<rect x="395" y="404" width="3" height="1" fill="#fff"/>
<rect x="400" y="404" width="3" height="1" fill="#fff"/>
<rect x="405" y="404" width="3" height="1" fill="#fff"/>
<rect x="351" y="407" width="55" height="15" fill="#fff"/>
<rect x="348" y="409" width="1" height="11" fill="#fff"/>
<rect x="348" y="450" width="61" height="24" fill="#000"/>
<rect x="351" y="452" width="3" height="5" fill="#fff"/>
<rect x="351" y="467" width="3" height="5" fill="#fff"/>
<rect x="357" y="452" width="3" height="5" fill="#fff"/>
<rect x="357" y="467" width="3" height="5" fill="#fff"/>
<rect x="363" y="452" width="3" height="5" fill="#fff"/>
<rect x="363" y="467" width="3" height="5" fill="#fff"/>
<rect x="369" y="452" width="3" height="5" fill="#fff"/>
<rect x="369" y="467" width="3" height="5" fill="#fff"/>
<rect x="375" y="452" width="3" height="5" fill="#fff"/>
<rect x="375" y="467" width="3" height="5" fill="#fff"/>
<rect x="380" y="452" width="3" height="5" fill="#fff"/>
<rect x="380" y="467" width="3" height="5" fill="#fff"/>
<rect x="386" y="452" width="3" height="5" fill="#fff"/>
<rect x="386" y="467" width="3" height="5" fill="#fff"/>
<rect x="392" y="452" width="3" height="5" fill="#fff"/>
<rect x="392" y="467" width="3" height="5" fill="#fff"/>
<rect x="398" y="452" width="3" height="5" fill="#fff"/>
<rect x="398" y="467" width="3" height="5" fill="#fff"/>
<rect x="403" y="452" width="3" height="5" fill="#fff"/>
<rect x="403" y="467" width="3" height="5" fill="#fff"/>
<rect x="356" y="460" width="21" height="5" fill="#fff"/>
<rect x="383" y="460" width="21" height="5" fill="#fff"/>
<rect x="348" y="461" width="3" height="4" fill="#fff"/>
<rect x="599" y="349" width="25" height="60" fill="#000"/>
<rect x="601" y="351" width="5" height="3" fill="#fff"/>
<rect x="617" y="351" width="5" height="3" fill="#fff"/>
<rect x="601" y="357" width="5" height="3" fill="#fff"/>
<rect x="617" y="357" width="5" height="3" fill="#fff"/>
<rect x="601" y="363" width="5" height="3" fill="#fff"/>
<rect x="617" y="363" width="5" height="3" fill="#fff"/>
<rect x="601" y="368" width="5" height="3" fill="#fff"/>
<rect x="617" y="368" width="5" height="3" fill="#fff"/>
<rect x="601" y="374" width="5" height="3" fill="#fff"/>
<rect x="617" y="374" width="5" height="3" fill="#fff"/>
<rect x="601" y="380" width="5" height="3" fill="#fff"/>
<rect x="617" y="380" width="5" height="3" fill="#fff"/>
<rect x="601" y="386" width="5" height="3" fill="#fff"/>
<rect x="617" y="386" width="5" height="3" fill="#fff"/>
<rect x="601" y="392" width="5" height="3" fill="#fff"/>
<rect x="617" y="392" width="5" height="3" fill="#fff"/>
<rect x="601" y="397" width="5" height="3" fill="#fff"/>
<rect x="617" y="397" width="5" height="3" fill="#fff"/>
<rect x="601" y="403" width="5" height="3" fill="#fff"/>
<rect x="617" y="403" width="5" height="3" fill="#fff"/>
<rect x="609" y="354" width="5" height="21" fill="#fff"/>
<rect x="609" y="380" width="5" height="21" fill="#fff"/>
<rect x="609" y="406" width="4" height="3" fill="#fff"/>
<rect x="599" y="423" width="25" height="60" fill="#000"/>
<rect x="601" y="425" width="5" height="3" fill="#fff"/>
<rect x="617" y="425" width="5" height="3" fill="#fff"/>
<rect x="601" y="431" width="5" height="3" fill="#fff"/>
<rect x="617" y="431" width="5" height="3" fill="#fff"/>
<rect x="601" y="437" width="5" height="3" fill="#fff"/>
<rect x="617" y="437" width="5" height="3" fill="#fff"/>
<rect x="601" y="442" width="5" height="3" fill="#fff"/>
<rect x="617" y="442" width="5" height="3" fill="#fff"/>
<rect x="601" y="448" width="5" height="3" fill="#fff"/>
<rect x="617" y="448" width="5" height="3" fill="#fff"/>
<rect x="601" y="454" width="5" height="3" fill="#fff"/>
<rect x="617" y="454" width="5" height="3" fill="#fff"/>
<rect x="601" y="460" width="5" height="3" fill="#fff"/>
<rect x="617" y="460" width="5" height="3" fill="#fff"/>
<rect x="601" y="466" width="5" height="3" fill="#fff"/>
<rect x="617" y="466" width="5" height="3" fill="#fff"/>
<rect x="601" y="471" width="5" height="3" fill="#fff"/>
<rect x="617" y="471" width="5" height="3" fill="#fff"/>
<rect x="601" y="477" width="5" height="3" fill="#fff"/>
<rect x="617" y="477" width="5" height="3" fill="#fff"/>
<rect x="609" y="428" width="5" height="21" fill="#fff"/>
<rect x="609" y="454" width="5" height="21" fill="#fff"/>
<rect x="609" y="480" width="4" height="3" fill="#fff"/>
<rect x="629" y="349" width="25" height="60" fill="#000"/>
<rect x="631" y="351" width="5" height="3" fill="#fff"/>
<rect x="647" y="351" width="5" height="3" fill="#fff"/>
<rect x="631" y="357" width="5" height="3" fill="#fff"/>
<rect x="647" y="357" width="5" height="3" fill="#fff"/>
<rect x="631" y="363" width="5" height="3" fill="#fff"/>
<rect x="647" y="363" width="5" height="3" fill="#fff"/>
<rect x="631" y="368" width="5" height="3" fill="#fff"/>
<rect x="647" y="368" width="5" height="3" fill="#fff"/>
<rect x="631" y="374" width="5" height="3" fill="#fff"/>
<rect x="647" y="374" width="5" height="3" fill="#fff"/>
<rect x="631" y="380" width="5" height="3" fill="#fff"/>
<rect x="647" y="380" width="5" height="3" fill="#fff"/>
<rect x="631" y="386" width="5" height="3" fill="#fff"/>
<rect x="647" y="386" width="5" height="3" fill="#fff"/>
<rect x="631" y="392" width="5" height="3" fill="#fff"/>
<rect x="647" y="392" width="5" height="3" fill="#fff"/>
<rect x="631" y="397" width="5" height="3" fill="#fff"/>
<rect x="647" y="397" width="5" height="3" fill="#fff"/>
<rect x="631" y="403" width="5" height="3" fill="#fff"/>
<rect x="647" y="403" width="5" height="3" fill="#fff"/>
<rect x="639" y="354" width="5" height="21" fill="#fff"/>
<rect x="639" y="380" width="5" height="21" fill="#fff"/>
<rect x="639" y="406" width="4" height="3" fill="#fff"/>
<rect x="629" y="423" width="25" height="60" fill="#000"/>
<rect x="631" y="425" width="5" height="3" fill="#fff"/>
<rect x="647" y="425" width="5" height="3" fill="#fff"/>
<rect x="631" y="431" width="5" height="3" fill="#fff"/>
<rect x="647" y="431" width="5" height="3" fill="#fff"/>
<rect x="631" y="437" width="5" height="3" fill="#fff"/>
<rect x="647" y="437" width="5" height="3" fill="#fff"/>
<rect x="631" y="442" width="5" height="3" fill="#fff"/>
<rect x="647" y="442" width="5" height="3" fill="#fff"/>
<rect x="631" y="448" width="5" height="3" fill="#fff"/>
<rect x="647" y="448" width="5" height="3" fill="#fff"/>
<rect x="631" y="454" width="5" height="3" fill="#fff"/>
<rect x="647" y="454" width="5" height="3" fill="#fff"/>
<rect x="631" y="460" width="5" height="3" fill="#fff"/>
<rect x="647" y="460" width="5" height="3" fill="#fff"/>
<rect x="631" y="466" width="5" height="3" fill="#fff"/>
<rect x="647" y="466" width="5" height="3" fill="#fff"/>
<rect x="631" y="471" width="5" height="3" fill="#fff"/>
<rect x="647" y="471" width="5" height="3" fill="#fff"/>
<rect x="631" y="477" width="5" height="3" fill="#fff"/>
<rect x="647" y="477" width="5" height="3" fill="#fff"/>
<rect x="639" y="428" width="5" height="21" fill="#fff"/>
<rect x="639" y="454" width="5" height="21" fill="#fff"/>
<rect x="639" y="480" width="4" height="3" fill="#fff"/>
<rect x="659" y="349" width="25" height="60" fill="#000"/>
<rect x="661" y="351" width="5" height="3" fill="#fff"/>
<rect x="677" y="351" width="5" height="3" fill="#fff"/>
<rect x="661" y="357" width="5" height="3" fill="#fff"/>
<rect x="677" y="357" width="5" height="3" fill="#fff"/>
<rect x="661" y="363" width="5" height="3" fill="#fff"/>
<rect x="677" y="363" width="5" height="3" fill="#fff"/>
<rect x="661" y="368" width="5" height="3" fill="#fff"/>
<rect x="677" y="368" width="5" height="3" fill="#fff"/>
<rect x="661" y="374" width="5" height="3" fill="#fff"/>
<rect x="677" y="374" width="5" height="3" fill="#fff"/>
<rect x="661" y="380" width="5" height="3" fill="#fff"/>
<rect x="677" y="380" width="5" height="3" fill="#fff"/>
<rect x="661" y="386" width="5" height="3" fill="#fff"/>
<rect x="677" y="386" width="5" height="3" fill="#fff"/>
<rect x="661" y="392" width="5" height="3" fill="#fff"/>
<rect x="677" y="392" width="5" height="3" fill="#fff"/>
<rect x="661" y="397" width="5" height="3" fill="#fff"/>
<rect x="677" y="397" width="5" height="3" fill="#fff"/>
<rect x="661" y="403" width="5" height="3" fill="#fff"/>
<rect x="677" y="403" width="5" height="3" fill="#fff"/>
<rect x="669" y="354" width="5" height="21" fill="#fff"/>
<rect x="669" y="380" width="5" height="21" fill="#fff"/>
<rect x="669" y="406" width="4" height="3" fill="#fff"/>
<rect x="659" y="423" width="25" height="60" fill="#000"/>
<rect x="661" y="425" width="5" height="3" fill="#fff"/>
<rect x="677" y="425" width="5" height="3" fill="#fff"/>
<rect x="661" y="431" width="5" height="3" fill="#fff"/>
<rect x="677" y="431" width="5" height="3" fill="#fff"/>
<rect x="661" y="437" width="5" height="3" fill="#fff"/>
<rect x="677" y="437" width="5" height="3" fill="#fff"/>
<rect x="661" y="442" width="5" height="3" fill="#fff"/>
<rect x="677" y="442" width="5" height="3" fill="#fff"/>
<rect x="661" y="448" width="5" height="3" fill="#fff"/>
<rect x="677" y="448" width="5" height="3" fill="#fff"/>
<rect x="661" y="454" width="5" height="3" fill="#fff"/>
<rect x="677" y="454" width="5" height="3" fill="#fff"/>
<rect x="661" y="460" width="5" height="3" fill="#fff"/>
<rect x="677" y="460" width="5" height="3" fill="#fff"/>
<rect x="661" y="466" width="5" height="3" fill="#fff"/>
<rect x="677" y="466" width="5" height="3" fill="#fff"/>
<rect x="661" y="471" width="5" height="3" fill="#fff"/>
<rect x="677" y="471" width="5" height="3" fill="#fff"/>
<rect x="661" y="477" width="5" height="3" fill="#fff"/>
<rect x="677" y="477" width="5" height="3" fill="#fff"/>
<rect x="669" y="428" width="5" height="21" fill="#fff"/>
<rect x="669" y="454" width="5" height="21" fill="#fff"/>
<rect x="669" y="480" width="4" height="3" fill="#fff"/>
<rect x="690" y="349" width="25" height="60" fill="#000"/>
<rect x="692" y="351" width="5" height="3" fill="#fff"/>
<rect x="708" y="351" width="5" height="3" fill="#fff"/>
<rect x="692" y="357" width="5" height="3" fill="#fff"/>
<rect x="708" y="357" width="5" height="3" fill="#fff"/>
<rect x="692" y="363" width="5" height="3" fill="#fff"/>
<rect x="708" y="363" width="5" height="3" fill="#fff"/>
<rect x="692" y="368" width="5" height="3" fill="#fff"/>
<rect x="708" y="368" width="5" height="3" fill="#fff"/>
<rect x="692" y="374" width="5" height="3" fill="#fff"/>
<rect x="708" y="374" width="5" height="3" fill="#fff"/>
<rect x="692" y="380" width="5" height="3" fill="#fff"/>
<rect x="708" y="380" width="5" height="3" fill="#fff"/>
<rect x="692" y="386" width="5" height="3" fill="#fff"/>
<rect x="708" y="386" width="5" height="3" fill="#fff"/>
<rect x="692" y="392" width="5" height="3" fill="#fff"/>
<rect x="708" y="392" width="5" height="3" fill="#fff"/>
<rect x="692" y="397" width="5" height="3" fill="#fff"/>
<rect x="708" y="397" width="5" height="3" fill="#fff"/>
<rect x="692" y="403" width="5" height="3" fill="#fff"/>
<rect x="708" y="403" width="5" height="3" fill="#fff"/>
<rect x="700" y="354" width="5" height="21" fill="#fff"/>
<rect x="700" y="380" width="5" height="21" fill="#fff"/>
<rect x="700" y="406" width="4" height="3" fill="#fff"/>
<rect x="690" y="423" width="25" height="60" fill="#000"/>
<rect x="692" y="425" width="5" height="3" fill="#fff"/>
<rect x="708" y="425" width="5" height="3" fill="#fff"/>
<rect x="692" y="431" width="5" height="3" fill="#fff"/>
<rect x="708" y="431" width="5" height="3" fill="#fff"/>
<rect x="692" y="437" width="5" height="3" fill="#fff"/>
<rect x="708" y="437" width="5" height="3" fill="#fff"/>
<rect x="692" y="442" width="5" height="3" fill="#fff"/>
<rect x="708" y="442" width="5" height="3" fill="#fff"/>
<rect x="692" y="448" width="5" height="3" fill="#fff"/>
<rect x="708" y="448" width="5" height="3" fill="#fff"/>
<rect x="692" y="454" width="5" height="3" fill="#fff"/>
<rect x="708" y="454" width="5" height="3" fill="#fff"/>
<rect x="692" y="460" width="5" height="3" fill="#fff"/>
<rect x="708" y="460" width="5" height="3" fill="#fff"/>
<rect x="692" y="466" width="5" height="3" fill="#fff"/>
<rect x="708" y="466" width="5" height="3" fill="#fff"/>
<rect x="692" y="471" width="5" height="3" fill="#fff"/>
<rect x="708" y="471" width="5" height="3" fill="#fff"/>
<rect x="692" y="477" width="5" height="3" fill="#fff"/>
<rect x="708" y="477" width="5" height="3" fill="#fff"/>
<rect x="700" y="428" width="5" height="21" fill="#fff"/>
<rect x="700" y="454" width="5" height="21" fill="#fff"/>
<rect x="700" y="480" width="4" height="3" fill="#fff"/>
<rect x="755" y="442" width="30" height="37" fill="#000"/>
<rect x="779" y="438" width="6" height="46" fill="#000"/>
<rect x="782" y="435" width="3" height="51" fill="#000"/>
<rect x="753" y="448" width="2" height="25" fill="#000"/>
<rect x="754" y="449" width="1" height="1" fill="#fff"/>
<rect x="754" y="451" width="1" height="1" fill="#fff"/>
<rect x="754" y="453" width="1" height="1" fill="#fff"/>
<rect x="754" y="455" width="1" height="1" fill="#fff"/>
<rect x="754" y="465" width="1" height="1" fill="#fff"/>
<rect x="754" y="467" width="1" height="1" fill="#fff"/>
<rect x="754" y="469" width="1" height="1" fill="#fff"/>
<rect x="754" y="471" width="1" height="1" fill="#fff"/>
<rect x="749" y="451" width="5" height="8" fill="#000"/>
<rect x="750" y="452" width="3" height="6" fill="#fff"/>
<rect x="749" y="462" width="5" height="9" fill="#000"/>
<rect x="750" y="463" width="3" height="7" fill="#fff"/>
<rect x="754" y="458" width="2" height="5" fill="#fff"/>
<rect x="19" y="32" width="7" height="31" fill="#000"/>
<rect x="20" y="33" width="5" height="1" fill="#fff"/>
<rect x="20" y="38" width="5" height="1" fill="#fff"/>
<rect x="20" y="39" width="5" height="1" fill="#fff"/>
<rect x="20" y="44" width="5" height="1" fill="#fff"/>
<rect x="20" y="45" width="5" height="1" fill="#fff"/>
<rect x="20" y="50" width="5" height="1" fill="#fff"/>
<rect x="20" y="56" width="5" height="1" fill="#fff"/>
<rect x="21" y="58" width="3" height="3" fill="#fff"/>
<rect x="19" y="73" width="7" height="26" fill="#000"/>
<rect x="20" y="74" width="5" height="1" fill="#fff"/>
<rect x="20" y="79" width="5" height="1" fill="#fff"/>
<rect x="20" y="80" width="5" height="1" fill="#fff"/>
<rect x="20" y="85" width="5" height="1" fill="#fff"/>
<rect x="20" y="91" width="5" height="1" fill="#fff"/>
<rect x="20" y="97" width="5" height="1" fill="#fff"/>
<rect x="21" y="93" width="3" height="3" fill="#fff"/>
<rect x="19" y="109" width="7" height="14" fill="#000"/>
<rect x="20" y="110" width="5" height="1" fill="#fff"/>
<rect x="20" y="115" width="5" height="1" fill="#fff"/>
<rect x="20" y="121" width="5" height="1" fill="#fff"/>
<rect x="19" y="134" width="7" height="14" fill="#000"/>
<rect x="20" y="135" width="5" height="1" fill="#fff"/>
<rect x="20" y="140" width="5" height="1" fill="#fff"/>
<rect x="20" y="146" width="5" height="1" fill="#fff"/>
<rect x="19" y="159" width="7" height="14" fill="#000"/>
<rect x="20" y="160" width="5" height="1" fill="#fff"/>
<rect x="20" y="165" width="5" height="1" fill="#fff"/>
<rect x="20" y="166" width="5" height="1" fill="#fff"/>
<rect x="20" y="171" width="5" height="1" fill="#fff"/>
<rect x="121" y="24" width="7" height="19" fill="#000"/>
<rect x="122" y="25" width="5" height="1" fill="#fff"/>
<rect x="123" y="27" width="3" height="3" fill="#fff"/>
<rect x="122" y="31" width="5" height="1" fill="#fff"/>
<rect x="122" y="36" width="5" height="2" fill="#fff"/>
<rect x="140" y="30" width="7" height="13" fill="#000"/>
<rect x="141" y="31" width="5" height="1" fill="#fff"/>
<rect x="141" y="36" width="5" height="1" fill="#fff"/>
<rect x="149" y="30" width="7" height="13" fill="#000"/>
<rect x="150" y="31" width="5" height="1" fill="#fff"/>
<rect x="150" y="36" width="5" height="1" fill="#fff"/>
<rect x="158" y="30" width="7" height="13" fill="#000"/>
<rect x="159" y="31" width="5" height="1" fill="#fff"/>
<rect x="159" y="36" width="5" height="1" fill="#fff"/>
<rect x="141" y="32" width="1" height="8" fill="#fff"/>
<rect x="218" y="91" width="7" height="14" fill="#000"/>
<rect x="219" y="92" width="5" height="1" fill="#fff"/>
<rect x="219" y="97" width="5" height="1" fill="#fff"/>
<rect x="219" y="103" width="5" height="1" fill="#fff"/>
<rect x="220" y="259" width="7" height="14" fill="#000"/>
<rect x="221" y="260" width="5" height="1" fill="#fff"/>
<rect x="221" y="260" width="1" height="12" fill="#fff"/>
<rect x="221" y="265" width="5" height="2" fill="#fff"/>
<rect x="221" y="271" width="5" height="1" fill="#fff"/>
<rect x="68" y="310" width="7" height="19" fill="#000"/>
<rect x="69" y="311" width="5" height="1" fill="#fff"/>
<rect x="70" y="313" width="3" height="2" fill="#fff"/>
<rect x="69" y="316" width="5" height="1" fill="#fff"/>
<rect x="69" y="322" width="5" height="1" fill="#fff"/>
<rect x="368" y="303" width="19" height="7" fill="#000"/>
<rect x="369" y="308" width="17" height="1" fill="#fff"/>
<rect x="373" y="304" width="2" height="4" fill="#fff"/>
<rect x="379" y="304" width="1" height="4" fill="#fff"/>
<rect x="381" y="305" width="3" height="2" fill="#fff"/>
<rect x="385" y="304" width="1" height="4" fill="#fff"/>
<polygon points="33,38.5 37.5,39 27,49 25.5,49 25.5,46" fill="#000"/>
<polygon points="34,76.5 38.5,77 28,87 25.5,87 25.5,84" fill="#000"/>
<polygon points="33,105.5 37.5,106 27,116 25.5,116 25.5,113" fill="#000"/>
<polygon points="33,131.5 37.5,132 27,142 25.5,142 25.5,139" fill="#000"/>
<polygon points="33,156.5 37.5,157 27,167 25.5,167 25.5,164" fill="#000"/>
<polygon points="112,25 121,33 121,36 119,36 110,27" fill="#000"/>
<polygon points="175,26.5 178.5,30 169,38 166,38 166,35.5" fill="#000"/>
<polygon points="140.5,43 144.5,43 136,51 130,51" fill="#000"/>
<polygon points="151.5,43 155.5,43 164,51 159,51" fill="#000"/>
<polygon points="218.5,73 225,73 222.5,90 220.5,90" fill="#000"/>
<polygon points="203,261.5 210,263.5 220,265 220,268.5 210,270 203,271.5" fill="#000"/>
<polygon points="84,309.5 87.5,311.5 76,320.5 75,320.5 75,317" fill="#000"/>
<polygon points="374,309.5 378,309.5 379,326 372,326" fill="#000"/>
<polygon points="36,23 55,23 58,26 58,39 55,42 36,42 33,39 33,26" fill="#000"/>
<polygon points="37,25 54,25 56,27 56,37 54,39 37,39 35,37 35,27" fill="#fff"/>
<polygon points="37,61 56,61 59,64 59,77 56,80 37,80 34,77 34,64" fill="#000"/>
<polygon points="38,63 55,63 57,65 57,75 55,77 38,77 36,75 36,65" fill="#fff"/>
<polygon points="36,91 55,91 58,94 58,107 55,110 36,110 33,107 33,94" fill="#000"/>
<polygon points="37,93 54,93 56,95 56,105 54,107 37,107 35,105 35,95" fill="#fff"/>
<polygon points="36,116 55,116 58,119 58,132 55,135 36,135 33,132 33,119" fill="#000"/>
<polygon points="37,118 54,118 56,120 56,130 54,132 37,132 35,130 35,120" fill="#fff"/>
<polygon points="36,141 54,141 57,144 57,157 54,160 36,160 33,157 33,144" fill="#000"/>
<polygon points="37,143 53,143 55,145 55,155 53,157 37,157 35,155 35,145" fill="#fff"/>
<polygon points="85,10 112,10 115,13 115,26 112,29 85,29 82,26 82,13" fill="#000"/>
<polygon points="86,13 110,13 112,15 112,24 110,26 86,26 84,24 84,15" fill="#fff"/>
<polygon points="178,11 212,11 215,14 215,27 212,30 178,30 175,27 175,14" fill="#000"/>
<polygon points="179,13 211,13 213,15 213,25 211,27 179,27 177,25 177,15" fill="#fff"/>
<polygon points="98,51 132,51 135,54 135,67 132,70 98,70 95,67 95,54" fill="#000"/>
<polygon points="99,53 131,53 133,55 133,65 131,67 99,67 97,65 97,55" fill="#fff"/>
<polygon points="163,51 197,51 200,54 200,67 197,70 163,70 160,67 160,54" fill="#000"/>
<polygon points="164,53 196,53 198,55 198,65 196,67 164,67 162,65 162,55" fill="#fff"/>
<polygon points="209,55 237,55 240,58 240,71 237,74 209,74 206,71 206,58" fill="#000"/>
<polygon points="210,58 235,58 237,60 237,69 235,71 210,71 208,69 208,60" fill="#fff"/>
<polygon points="172,257 202,257 205,260 205,273 202,276 172,276 169,273 169,260" fill="#000"/>
<polygon points="173,259 200,259 202,261 202,271 200,273 173,273 171,271 171,261" fill="#fff"/>
<polygon points="87,293 121,293 124,296 124,309 121,312 87,312 84,309 84,296" fill="#000"/>
<polygon points="88,296 119,296 121,298 121,308 119,310 88,310 86,308 86,298" fill="#fff"/>
<polygon points="363,326 390,326 393,329 393,342 390,345 363,345 360,342 360,329" fill="#000"/>
<polygon points="364,328 388,328 390,330 390,340 388,342 364,342 362,340 362,330" fill="#fff"/>
<polygon points="223,390 279,390 281,392 281,405 279,407 223,407 221,405 221,392" fill="#000"/>
<polygon points="225,392 277,392 279,394 279,403 277,405 225,405 223,403 223,394" fill="#fff"/>
<polygon points="477,390 533,390 535,392 535,405 533,407 477,407 475,405 475,392" fill="#000"/>
<polygon points="479,392 531,392 533,394 533,403 531,405 479,405 477,403 477,394" fill="#fff"/>
<polygon points="629,370 685,370 687,372 687,385 685,387 629,387 627,385 627,372" fill="#000"/>
<polygon points="631,372 683,372 685,374 685,383 683,385 631,385 629,383 629,374" fill="#fff"/>
<polygon points="629,445 685,445 687,447 687,460 685,462 629,462 627,460 627,447" fill="#000"/>
<polygon points="631,447 683,447 685,449 685,458 683,460 631,460 629,458 629,449" fill="#fff"/>
<rect x="267" y="495" width="28" height="14" fill="#fff"/>
<rect x="520" y="494" width="28" height="14" fill="#fff"/>
<rect x="54" y="134" width="42" height="126" fill="#000"/>
<rect x="63" y="146" width="24" height="110" fill="#fff"/>
<polygon points="68.5,133.5 81.5,133.5 80,136 78,138 75,139 72,138 70,136" fill="#fff"/>
<rect x="56" y="136" width="5" height="3" fill="#fff"/>
<rect x="89" y="136" width="6" height="3" fill="#fff"/>
<rect x="56" y="142" width="5" height="3" fill="#fff"/>
<rect x="89" y="142" width="6" height="3" fill="#fff"/>
<rect x="56" y="148" width="5" height="3" fill="#fff"/>
<rect x="89" y="148" width="6" height="3" fill="#fff"/>
<rect x="56" y="155" width="5" height="3" fill="#fff"/>
<rect x="89" y="155" width="6" height="3" fill="#fff"/>
<rect x="56" y="161" width="5" height="3" fill="#fff"/>
<rect x="89" y="161" width="6" height="3" fill="#fff"/>
<rect x="56" y="167" width="5" height="3" fill="#fff"/>
<rect x="89" y="167" width="6" height="3" fill="#fff"/>
<rect x="56" y="173" width="5" height="3" fill="#fff"/>
<rect x="89" y="173" width="6" height="3" fill="#fff"/>
<rect x="56" y="179" width="5" height="3" fill="#fff"/>
<rect x="89" y="179" width="6" height="3" fill="#fff"/>
<rect x="56" y="186" width="5" height="3" fill="#fff"/>
<rect x="89" y="186" width="6" height="3" fill="#fff"/>
<rect x="56" y="192" width="5" height="3" fill="#fff"/>
<rect x="89" y="192" width="6" height="3" fill="#fff"/>
<rect x="56" y="198" width="5" height="3" fill="#fff"/>
<rect x="89" y="198" width="6" height="3" fill="#fff"/>
<rect x="56" y="204" width="5" height="3" fill="#fff"/>
<rect x="89" y="204" width="6" height="3" fill="#fff"/>
<rect x="56" y="210" width="5" height="3" fill="#fff"/>
<rect x="89" y="210" width="6" height="3" fill="#fff"/>
<rect x="56" y="217" width="5" height="3" fill="#fff"/>
<rect x="89" y="217" width="6" height="3" fill="#fff"/>
<rect x="56" y="223" width="5" height="3" fill="#fff"/>
<rect x="89" y="223" width="6" height="3" fill="#fff"/>
<rect x="56" y="229" width="5" height="3" fill="#fff"/>
<rect x="89" y="229" width="6" height="3" fill="#fff"/>
<rect x="56" y="235" width="5" height="3" fill="#fff"/>
<rect x="89" y="235" width="6" height="3" fill="#fff"/>
<rect x="56" y="241" width="5" height="3" fill="#fff"/>
<rect x="89" y="241" width="6" height="3" fill="#fff"/>
<rect x="56" y="248" width="5" height="3" fill="#fff"/>
<rect x="89" y="248" width="6" height="3" fill="#fff"/>
<rect x="56" y="254" width="5" height="3" fill="#fff"/>
<rect x="89" y="254" width="6" height="3" fill="#fff"/>
<rect x="59" y="188" width="32" height="19" fill="#000"/>
<polygon points="62,190 88,190 89,191 89,203 88,204 62,204 61,203 61,191" fill="#fff"/>
<polyline points="113.5,27.5 116.5,30.5" fill="none" stroke="#fff" stroke-width="1"/>
<polyline points="176.5,28.5 174.5,30.5" fill="none" stroke="#fff" stroke-width="1"/>
<polyline points="134.5,50.5 136.5,48.5" fill="none" stroke="#fff" stroke-width="1"/>
<polyline points="161.5,50.5 159.5,48.5" fill="none" stroke="#fff" stroke-width="1"/>
<polyline points="221.5,72 221.5,78" fill="none" stroke="#fff" stroke-width="1"/>
<polyline points="203,266.5 209,266.5" fill="none" stroke="#fff" stroke-width="1"/>
<polyline points="375.5,319 375.5,328" fill="none" stroke="#fff" stroke-width="1"/>
<polyline points="35.5,39.5 32.5,42.5" fill="none" stroke="#fff" stroke-width="1"/>
<polyline points="36.5,77.5 33.5,80.5" fill="none" stroke="#fff" stroke-width="1"/>
<polyline points="35.5,107.5 32.5,110.5" fill="none" stroke="#fff" stroke-width="1"/>
<polyline points="35.5,132.5 32.5,135.5" fill="none" stroke="#fff" stroke-width="1"/>
<polyline points="35.5,157.5 32.5,160.5" fill="none" stroke="#fff" stroke-width="1"/>
<polyline points="86.5,309.5 84.5,311.5" fill="none" stroke="#fff" stroke-width="1"/>
<path d="M42.5,26.5 L42.5,34.5 L41.5,35.5 L40.5,35.5 L39.5,34.5 L39.5,33.5 M49.5,27.5 L49.5,35.5 M47.5,29.5 L48.5,29.5" fill="none" stroke="#000" stroke-width="1" stroke-linecap="square" stroke-linejoin="miter"/>
<path d="M42.5,64.5 L42.5,72.5 L41.5,73.5 L40.5,73.5 L39.5,72.5 L39.5,71.5 M46.5,67.5 L46.5,66.5 L47.5,65.5 L49.5,65.5 L50.5,66.5 L50.5,68.5 L46.5,72.5 L46.5,73.5 L50.5,73.5" fill="none" stroke="#000" stroke-width="1" stroke-linecap="square" stroke-linejoin="miter"/>
<path d="M41.5,94.5 L41.5,102.5 L40.5,103.5 L39.5,103.5 L38.5,102.5 L38.5,101.5 M45.5,97.5 L45.5,96.5 L46.5,95.5 L48.5,95.5 L49.5,96.5 L49.5,98.5 L48.5,99.5 L47.5,99.5 M48.5,99.5 L49.5,100.5 L49.5,102.5 L48.5,103.5 L46.5,103.5 L45.5,102.5 L45.5,101.5" fill="none" stroke="#000" stroke-width="1" stroke-linecap="square" stroke-linejoin="miter"/>
<path d="M41.5,119.5 L41.5,127.5 L40.5,128.5 L39.5,128.5 L38.5,127.5 L38.5,126.5 M48.5,120.5 L48.5,128.5 M47.5,122.5 L46.5,123.5 L46.5,124.5 L45.5,125.5 L45.5,126.5 L49.5,126.5" fill="none" stroke="#000" stroke-width="1" stroke-linecap="square" stroke-linejoin="miter"/>
<path d="M42.5,144.5 L42.5,152.5 L41.5,153.5 L40.5,153.5 L39.5,152.5 L39.5,151.5 M50.5,145.5 L47.5,145.5 L46.5,146.5 L46.5,149.5 L49.5,149.5 L50.5,150.5 L50.5,152.5 L49.5,153.5 L47.5,153.5 L46.5,152.5" fill="none" stroke="#000" stroke-width="1" stroke-linecap="square" stroke-linejoin="miter"/>
<path d="M89.5,13.5 L89.5,21.5 L88.5,22.5 L87.5,22.5 L86.5,21.5 L86.5,20.5 M94.5,22.5 L94.5,13.5 L97.5,13.5 L98.5,14.5 L98.5,17.5 L97.5,18.5 L94.5,18.5 M106.5,14.5 L103.5,14.5 L102.5,15.5 L102.5,18.5 L105.5,18.5 L106.5,19.5 L106.5,21.5 L105.5,22.5 L103.5,22.5 L102.5,21.5" fill="none" stroke="#000" stroke-width="1" stroke-linecap="square" stroke-linejoin="miter"/>
<path d="M183.5,14.5 L183.5,22.5 L182.5,23.5 L181.5,23.5 L180.5,22.5 L180.5,21.5 M188.5,23.5 L188.5,14.5 L191.5,14.5 L192.5,15.5 L192.5,18.5 L191.5,19.5 L188.5,19.5 M199.5,15.5 L199.5,23.5 M197.5,17.5 L198.5,17.5 M207.5,15.5 L204.5,15.5 L203.5,16.5 L203.5,19.5 L206.5,19.5 L207.5,20.5 L207.5,22.5 L206.5,23.5 L204.5,23.5 L203.5,22.5" fill="none" stroke="#000" stroke-width="1" stroke-linecap="square" stroke-linejoin="miter"/>
<path d="M103.5,54.5 L103.5,62.5 L102.5,63.5 L101.5,63.5 L100.5,62.5 L100.5,61.5 M108.5,63.5 L108.5,54.5 L111.5,54.5 L112.5,55.5 L112.5,58.5 L111.5,59.5 L108.5,59.5 M118.5,55.5 L118.5,63.5 M116.5,57.5 L117.5,57.5 M123.5,55.5 L127.5,55.5 M126.5,56.5 L126.5,57.5 L125.5,58.5 L125.5,59.5 L124.5,60.5 L124.5,63.5" fill="none" stroke="#000" stroke-width="1" stroke-linecap="square" stroke-linejoin="miter"/>
<path d="M168.5,54.5 L168.5,62.5 L167.5,63.5 L166.5,63.5 L165.5,62.5 L165.5,61.5 M173.5,63.5 L173.5,54.5 L176.5,54.5 L177.5,55.5 L177.5,58.5 L176.5,59.5 L173.5,59.5 M184.5,55.5 L184.5,63.5 M182.5,57.5 L183.5,57.5 M192.5,56.5 L191.5,55.5 L189.5,55.5 L188.5,56.5 L188.5,62.5 L189.5,63.5 L191.5,63.5 L192.5,62.5 L192.5,60.5 L191.5,59.5 L188.5,59.5" fill="none" stroke="#000" stroke-width="1" stroke-linecap="square" stroke-linejoin="miter"/>
<path d="M214.5,58.5 L214.5,66.5 L213.5,67.5 L212.5,67.5 L211.5,66.5 L211.5,65.5 M219.5,67.5 L219.5,58.5 L222.5,58.5 L223.5,59.5 L223.5,62.5 L222.5,63.5 L219.5,63.5 M227.5,61.5 L227.5,60.5 L228.5,59.5 L230.5,59.5 L231.5,60.5 L231.5,62.5 L227.5,66.5 L227.5,67.5 L231.5,67.5" fill="none" stroke="#000" stroke-width="1" stroke-linecap="square" stroke-linejoin="miter"/>
<path d="M179.5,260.5 L179.5,268.5 L178.5,269.5 L177.5,269.5 L176.5,268.5 L176.5,267.5 M184.5,269.5 L184.5,260.5 L187.5,260.5 L188.5,261.5 L188.5,264.5 L187.5,265.5 L184.5,265.5 M194.5,261.5 L194.5,269.5 M193.5,263.5 L192.5,264.5 L192.5,265.5 L191.5,266.5 L191.5,267.5 L195.5,267.5" fill="none" stroke="#000" stroke-width="1" stroke-linecap="square" stroke-linejoin="miter"/>
<path d="M92.5,297.5 L92.5,305.5 L91.5,306.5 L90.5,306.5 L89.5,305.5 L89.5,304.5 M97.5,306.5 L97.5,297.5 L100.5,297.5 L101.5,298.5 L101.5,301.5 L100.5,302.5 L97.5,302.5 M107.5,298.5 L107.5,306.5 M105.5,300.5 L106.5,300.5 M112.5,300.5 L112.5,299.5 L113.5,298.5 L115.5,298.5 L116.5,299.5 L116.5,301.5 L115.5,302.5 L114.5,302.5 M115.5,302.5 L116.5,303.5 L116.5,305.5 L115.5,306.5 L113.5,306.5 L112.5,305.5 L112.5,304.5" fill="none" stroke="#000" stroke-width="1" stroke-linecap="square" stroke-linejoin="miter"/>
<path d="M368.5,329.5 L368.5,337.5 L367.5,338.5 L366.5,338.5 L365.5,337.5 L365.5,336.5 M373.5,338.5 L373.5,329.5 L376.5,329.5 L377.5,330.5 L377.5,333.5 L376.5,334.5 L373.5,334.5 M383.5,330.5 L383.5,338.5 M381.5,332.5 L382.5,332.5" fill="none" stroke="#000" stroke-width="1" stroke-linecap="square" stroke-linejoin="miter"/>
<path d="M63.5,200.5 L63.5,191.5 M64.5,192.5 L67.5,199.5 M68.5,191.5 L68.5,200.5 M73.5,200.5 L73.5,191.5 L76.5,191.5 L77.5,192.5 L77.5,195.5 L76.5,196.5 L73.5,196.5 M81.5,191.5 L81.5,198.5 L82.5,199.5 L83.5,200.5 L84.5,200.5 L85.5,199.5 L86.5,198.5 L86.5,191.5" fill="none" stroke="#000" stroke-width="1" stroke-linecap="square" stroke-linejoin="miter"/>
<path d="M148.5,208.5 L148.5,207.5 L147.5,206.5 L145.5,206.5 L144.5,207.5 L143.5,208.5 L143.5,213.5 L144.5,214.5 L145.5,215.5 L147.5,215.5 L148.5,214.5 L148.5,212.5 M154.5,215.5 L154.5,206.5 L157.5,206.5 L158.5,207.5 L158.5,210.5 L157.5,211.5 L154.5,211.5 M162.5,206.5 L162.5,213.5 L163.5,214.5 L164.5,215.5 L165.5,215.5 L166.5,214.5 L167.5,213.5 L167.5,206.5" fill="none" stroke="#000" stroke-width="1" stroke-linecap="square" stroke-linejoin="miter"/>
<path d="M255.5,75.5 L255.5,84.5 M260.5,75.5 L256.5,79.5 M257.5,80.5 L260.5,84.5 M264.5,75.5 L264.5,84.5 L267.5,84.5 L268.5,83.5 L268.5,80.5 L267.5,79.5 L264.5,79.5 M264.5,75.5 L267.5,75.5 L268.5,76.5 L268.5,78.5 L267.5,79.5 M273.5,75.5 L273.5,84.5 L276.5,84.5 L277.5,83.5 L278.5,82.5 L278.5,78.5 L277.5,77.5 L277.5,76.5 L276.5,75.5 L273.5,75.5" fill="none" stroke="#000" stroke-width="1" stroke-linecap="square" stroke-linejoin="miter"/>
<path d="M314.5,219.5 L314.5,228.5 L317.5,228.5 L318.5,227.5 L318.5,224.5 L317.5,223.5 L314.5,223.5 M314.5,219.5 L317.5,219.5 L318.5,220.5 L318.5,222.5 L317.5,223.5 M322.5,219.5 L322.5,228.5 M328.5,219.5 L331.5,219.5 L332.5,220.5 L333.5,221.5 L333.5,226.5 L332.5,227.5 L331.5,228.5 L328.5,228.5 L327.5,227.5 L326.5,226.5 L326.5,221.5 L327.5,220.5 L328.5,219.5 M341.5,220.5 L340.5,219.5 L337.5,219.5 L336.5,220.5 L336.5,222.5 L337.5,223.5 L340.5,224.5 L341.5,225.5 L341.5,227.5 L340.5,228.5 L337.5,228.5 L336.5,227.5 L336.5,226.5 M347.5,219.5 L345.5,228.5 M351.5,219.5 L354.5,219.5 L355.5,220.5 L356.5,221.5 L356.5,226.5 L355.5,227.5 L354.5,228.5 L351.5,228.5 L350.5,227.5 L349.5,226.5 L349.5,221.5 L350.5,220.5 L351.5,219.5 M360.5,219.5 L360.5,228.5 L363.5,228.5 L364.5,227.5 L365.5,226.5 L365.5,222.5 L364.5,221.5 L364.5,220.5 L363.5,219.5 L360.5,219.5 M370.5,219.5 L370.5,228.5 L373.5,228.5 L374.5,227.5 L375.5,226.5 L375.5,222.5 L374.5,221.5 L374.5,220.5 L373.5,219.5 L370.5,219.5" fill="none" stroke="#000" stroke-width="1" stroke-linecap="square" stroke-linejoin="miter"/>
<path d="M310.5,267.5 L310.5,276.5 L313.5,276.5 L314.5,275.5 L314.5,272.5 L313.5,271.5 L310.5,271.5 M310.5,267.5 L313.5,267.5 L314.5,268.5 L314.5,270.5 L313.5,271.5 M318.5,267.5 L318.5,276.5 M324.5,267.5 L327.5,267.5 L328.5,268.5 L329.5,269.5 L329.5,274.5 L328.5,275.5 L327.5,276.5 L324.5,276.5 L323.5,275.5 L322.5,274.5 L322.5,269.5 L323.5,268.5 L324.5,267.5 M337.5,268.5 L336.5,267.5 L333.5,267.5 L332.5,268.5 L332.5,270.5 L333.5,271.5 L336.5,272.5 L337.5,273.5 L337.5,275.5 L336.5,276.5 L333.5,276.5 L332.5,275.5 L332.5,274.5 M343.5,267.5 L341.5,276.5 M350.5,267.5 L346.5,267.5 L346.5,276.5 L350.5,276.5 M346.5,271.5 L349.5,271.5 M354.5,267.5 L354.5,268.5 L356.5,274.5 L356.5,276.5 M359.5,267.5 L359.5,268.5 L357.5,274.5 L357.5,276.5 M368.5,267.5 L364.5,267.5 L364.5,276.5 L368.5,276.5 M364.5,271.5 L367.5,271.5 M372.5,276.5 L372.5,267.5 M373.5,268.5 L376.5,275.5 M377.5,267.5 L377.5,276.5" fill="none" stroke="#000" stroke-width="1" stroke-linecap="square" stroke-linejoin="miter"/>
<path d="M226.5,392.5 L226.5,401.5 L229.5,401.5 L230.5,400.5 L230.5,397.5 L229.5,396.5 L226.5,396.5 M226.5,392.5 L229.5,392.5 L230.5,393.5 L230.5,395.5 L229.5,396.5 M233.5,401.5 L234.5,400.5 L234.5,397.5 L235.5,396.5 L235.5,394.5 L236.5,393.5 L237.5,394.5 L237.5,396.5 L238.5,397.5 L238.5,400.5 L239.5,401.5 M234.5,397.5 L238.5,397.5 M243.5,401.5 L243.5,392.5 M244.5,393.5 L247.5,400.5 M248.5,392.5 L248.5,401.5 M252.5,392.5 L252.5,401.5 M257.5,392.5 L253.5,396.5 M254.5,397.5 L257.5,401.5 M268.5,393.5 L266.5,395.5 L266.5,399.5 L268.5,401.5 L270.5,399.5 L270.5,395.5 L268.5,393.5" fill="none" stroke="#000" stroke-width="1" stroke-linecap="square" stroke-linejoin="miter"/>
<path d="M480.5,391.5 L480.5,400.5 L483.5,400.5 L484.5,399.5 L484.5,396.5 L483.5,395.5 L480.5,395.5 M480.5,391.5 L483.5,391.5 L484.5,392.5 L484.5,394.5 L483.5,395.5 M488.5,400.5 L489.5,399.5 L489.5,396.5 L490.5,395.5 L490.5,393.5 L491.5,392.5 L492.5,393.5 L492.5,395.5 L493.5,396.5 L493.5,399.5 L494.5,400.5 M489.5,396.5 L493.5,396.5 M498.5,400.5 L498.5,391.5 M499.5,392.5 L502.5,399.5 M503.5,391.5 L503.5,400.5 M507.5,391.5 L507.5,400.5 M512.5,391.5 L508.5,395.5 M509.5,396.5 L512.5,400.5 M524.5,392.5 L524.5,400.5 M522.5,394.5 L523.5,394.5" fill="none" stroke="#000" stroke-width="1" stroke-linecap="square" stroke-linejoin="miter"/>
<path d="M354.5,408.5 L354.5,417.5 L357.5,417.5 L358.5,416.5 L358.5,413.5 L357.5,412.5 L354.5,412.5 M354.5,408.5 L357.5,408.5 L358.5,409.5 L358.5,411.5 L357.5,412.5 M361.5,417.5 L362.5,416.5 L362.5,413.5 L363.5,412.5 L363.5,410.5 L364.5,409.5 L365.5,410.5 L365.5,412.5 L366.5,413.5 L366.5,416.5 L367.5,417.5 M362.5,413.5 L366.5,413.5 M371.5,417.5 L371.5,408.5 M372.5,409.5 L375.5,416.5 M376.5,408.5 L376.5,417.5 M380.5,408.5 L380.5,417.5 M385.5,408.5 L381.5,412.5 M382.5,413.5 L385.5,417.5 M394.5,411.5 L394.5,410.5 L395.5,409.5 L397.5,409.5 L398.5,410.5 L398.5,412.5 L394.5,416.5 L394.5,417.5 L398.5,417.5" fill="none" stroke="#000" stroke-width="1" stroke-linecap="square" stroke-linejoin="miter"/>
<path d="M632.5,372.5 L632.5,381.5 L635.5,381.5 L636.5,380.5 L636.5,377.5 L635.5,376.5 L632.5,376.5 M632.5,372.5 L635.5,372.5 L636.5,373.5 L636.5,375.5 L635.5,376.5 M639.5,381.5 L640.5,380.5 L640.5,377.5 L641.5,376.5 L641.5,374.5 L642.5,373.5 L643.5,374.5 L643.5,376.5 L644.5,377.5 L644.5,380.5 L645.5,381.5 M640.5,377.5 L644.5,377.5 M649.5,381.5 L649.5,372.5 M650.5,373.5 L653.5,380.5 M654.5,372.5 L654.5,381.5 M658.5,372.5 L658.5,381.5 M663.5,372.5 L659.5,376.5 M660.5,377.5 L663.5,381.5 M672.5,375.5 L672.5,374.5 L673.5,373.5 L675.5,373.5 L676.5,374.5 L676.5,376.5 L675.5,377.5 L674.5,377.5 M675.5,377.5 L676.5,378.5 L676.5,380.5 L675.5,381.5 L673.5,381.5 L672.5,380.5 L672.5,379.5" fill="none" stroke="#000" stroke-width="1" stroke-linecap="square" stroke-linejoin="miter"/>
<path d="M632.5,447.5 L632.5,456.5 L635.5,456.5 L636.5,455.5 L636.5,452.5 L635.5,451.5 L632.5,451.5 M632.5,447.5 L635.5,447.5 L636.5,448.5 L636.5,450.5 L635.5,451.5 M639.5,456.5 L640.5,455.5 L640.5,452.5 L641.5,451.5 L641.5,449.5 L642.5,448.5 L643.5,449.5 L643.5,451.5 L644.5,452.5 L644.5,455.5 L645.5,456.5 M640.5,452.5 L644.5,452.5 M649.5,456.5 L649.5,447.5 M650.5,448.5 L653.5,455.5 M654.5,447.5 L654.5,456.5 M658.5,447.5 L658.5,456.5 M663.5,447.5 L659.5,451.5 M660.5,452.5 L663.5,456.5 M675.5,448.5 L675.5,456.5 M674.5,450.5 L673.5,451.5 L673.5,452.5 L672.5,453.5 L672.5,454.5 L676.5,454.5" fill="none" stroke="#000" stroke-width="1" stroke-linecap="square" stroke-linejoin="miter"/>
<path d="M271.5,505.5 L271.5,496.5 L274.5,496.5 L275.5,497.5 L275.5,500.5 L274.5,501.5 L271.5,501.5 M278.5,502.5 L280.5,502.5 M285.5,497.5 L283.5,499.5 L283.5,503.5 L285.5,505.5 L287.5,503.5 L287.5,499.5 L285.5,497.5" fill="none" stroke="#000" stroke-width="1" stroke-linecap="square" stroke-linejoin="miter"/>
<path d="M524.5,504.5 L524.5,495.5 L527.5,495.5 L528.5,496.5 L528.5,499.5 L527.5,500.5 L524.5,500.5 M532.5,501.5 L534.5,501.5 M540.5,496.5 L540.5,504.5 M538.5,498.5 L539.5,498.5" fill="none" stroke="#000" stroke-width="1" stroke-linecap="square" stroke-linejoin="miter"/>
<path d="M632.5,55.5 L632.5,47.5 L633.5,48.5 L634.5,52.5 L635.5,52.5 L636.5,48.5 L637.5,47.5 L637.5,55.5 M641.5,47.5 L641.5,55.5 M645.5,47.5 L645.5,55.5 M641.5,51.5 L645.5,51.5 M651.5,48.5 L649.5,50.5 L649.5,53.5 L651.5,55.5 L653.5,53.5 L653.5,50.5 L651.5,48.5 M655.5,50.5 L655.5,49.5 L656.5,48.5 L658.5,48.5 L659.5,49.5 L659.5,51.5 L658.5,51.5 L657.5,51.5 M658.5,51.5 L659.5,52.5 L659.5,54.5 L658.5,55.5 L656.5,55.5 L655.5,54.5 L655.5,53.5 M666.5,51.5 L665.5,51.5 L663.5,51.5 L662.5,51.5 L662.5,49.5 L663.5,48.5 L665.5,48.5 L666.5,49.5 L666.5,54.5 L665.5,55.5 L663.5,55.5 L662.5,54.5 M671.5,48.5 L669.5,50.5 L669.5,53.5 L671.5,55.5 L673.5,53.5 L673.5,50.5 L671.5,48.5" fill="none" stroke="#000" stroke-width="1" stroke-linecap="square" stroke-linejoin="miter"/>
</svg>
</body></html>
